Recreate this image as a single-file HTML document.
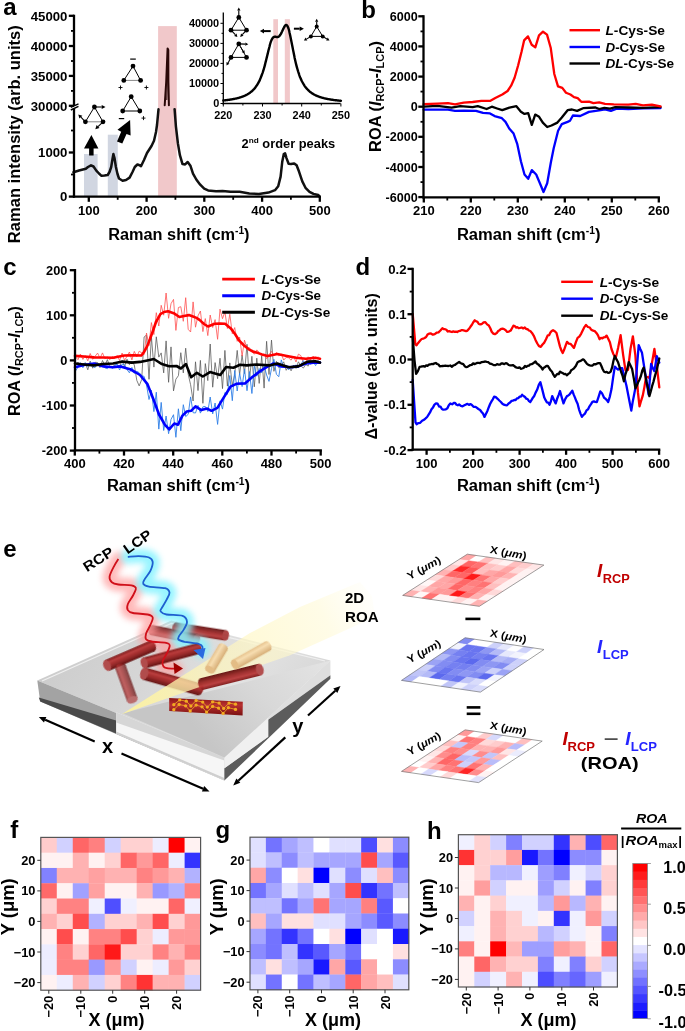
<!DOCTYPE html><html><head><meta charset="utf-8"><title>Figure</title><style>html,body{margin:0;padding:0;background:#fff;width:685px;height:1031px;overflow:hidden;}svg{display:block;font-family:"Liberation Sans", sans-serif;will-change:transform;}</style></head><body><svg width="685" height="1031" viewBox="0 0 685 1031" font-family='"Liberation Sans", sans-serif'><defs><linearGradient id="topface" x1="0" y1="0" x2="1" y2="0.3">
<stop offset="0" stop-color="#c9c9c9"/><stop offset="0.45" stop-color="#d6d6d6"/><stop offset="0.75" stop-color="#e2e2e2"/><stop offset="1" stop-color="#d8d8d8"/></linearGradient>
<linearGradient id="litface" gradientUnits="userSpaceOnUse" x1="320" y1="655" x2="215" y2="750"><stop offset="0" stop-color="#e3e3e3"/><stop offset="0.5" stop-color="#d8d8d8"/><stop offset="1" stop-color="#c6c6c6"/></linearGradient>
<linearGradient id="beam" gradientUnits="userSpaceOnUse" x1="121.8" y1="714.3" x2="375" y2="595">
<stop offset="0" stop-color="#fff49a" stop-opacity="0.9"/><stop offset="0.35" stop-color="#fff5b8" stop-opacity="0.7"/><stop offset="0.8" stop-color="#fffad8" stop-opacity="0.62"/><stop offset="1" stop-color="#fffce8" stop-opacity="0.15"/></linearGradient>
<linearGradient id="cylR" x1="0" y1="0" x2="0" y2="1">
<stop offset="0" stop-color="#7a1414"/><stop offset="0.3" stop-color="#b83636"/><stop offset="0.6" stop-color="#9a2222"/><stop offset="1" stop-color="#5c0a0a"/></linearGradient>
<linearGradient id="cylY" x1="0" y1="0" x2="0" y2="1">
<stop offset="0" stop-color="#e6c08a"/><stop offset="0.35" stop-color="#f7dcae"/><stop offset="1" stop-color="#d4a870"/></linearGradient>
<filter id="glow" x="-30%" y="-30%" width="160%" height="160%"><feGaussianBlur stdDeviation="3.0"/></filter>
<filter id="soft" x="-10%" y="-10%" width="120%" height="120%"><feGaussianBlur stdDeviation="0.6"/></filter></defs><rect width="685" height="1031" fill="#fff"/><rect x="84" y="154" width="13.6" height="42.6" fill="#d1d6e1"/>
<rect x="107.8" y="134.7" width="10" height="61.9" fill="#d1d6e1"/>
<rect x="158.1" y="26.1" width="18.7" height="170.5" fill="#f1c8ca"/>
<polyline points="73.5,172.3 79.0,170.5 85.8,168.8 88.0,167.0 91.0,165.3 93.5,166.5 96.3,170.6 99.0,173.5 101.5,175.8 104.5,175.5 107.7,175.0 109.5,172.0 111.2,167.0 112.5,159.0 113.4,154.0 114.5,158.0 115.9,167.0 117.5,174.0 119.0,178.5 122.6,180.7 126.0,180.0 129.6,177.6 132.5,172.0 134.8,167.0 137.4,164.5 139.0,165.0 141.0,166.2 144.0,160.0 147.0,153.0 151.5,146.0 154.0,140.8 156.0,132.0 157.0,125.0 158.5,109.3" fill="none" stroke="#111" stroke-width="2.5" stroke-linejoin="round" stroke-linecap="round" />
<polyline points="174.6,109.2 175.9,126.3 177.9,143.4 179.9,155.2 182.5,164.1 185.1,164.4 187.7,162.0 190.4,165.7 193.0,173.6 196.3,179.5 200.2,184.7 204.2,188.7 208.1,190.4 216.0,191.3 222.6,190.9 230.4,191.7 239.6,191.8 249.3,193.4 258.9,193.9 268.5,192.6 275.0,190.2 278.2,186.2 280.6,176.6 282.2,162.1 283.8,154.1 285.1,153.3 286.5,158.1 288.6,163.7 291.0,164.0 294.2,163.4 296.6,165.3 299.1,171.8 302.3,181.4 305.5,187.8 309.5,191.8 313.5,193.9 318.3,195.0 319.6,196.6" fill="none" stroke="#111" stroke-width="2.5" stroke-linejoin="round" stroke-linecap="round" />
<polyline points="164.7,105.2 166.2,82.0 167.6,48.4 168.3,50.0 168.4,82.0 168.9,105.2" fill="none" stroke="#2a0808" stroke-width="2.0" stroke-linejoin="round" stroke-linecap="round" />
<line x1="166.8" y1="100.0" x2="167.9" y2="60.0" stroke="#2a0808" stroke-width="1.0" />
<line x1="74.0" y1="14.7" x2="74.0" y2="105.6" stroke="#000" stroke-width="2.3" />
<line x1="74.0" y1="108.6" x2="74.0" y2="197.7" stroke="#000" stroke-width="2.3" />
<line x1="72.9" y1="196.6" x2="320.7" y2="196.6" stroke="#000" stroke-width="2.3" />
<line x1="70.8" y1="107.4" x2="78.5" y2="103.8" stroke="#000" stroke-width="1.4" />
<line x1="70.8" y1="110.0" x2="78.5" y2="106.4" stroke="#000" stroke-width="1.4" />
<line x1="68.8" y1="15.8" x2="74.0" y2="15.8" stroke="#000" stroke-width="2.3" />
<line x1="68.8" y1="46.0" x2="74.0" y2="46.0" stroke="#000" stroke-width="2.3" />
<line x1="68.8" y1="75.9" x2="74.0" y2="75.9" stroke="#000" stroke-width="2.3" />
<line x1="68.8" y1="105.8" x2="74.0" y2="105.8" stroke="#000" stroke-width="2.3" />
<line x1="68.8" y1="152.5" x2="74.0" y2="152.5" stroke="#000" stroke-width="2.3" />
<line x1="68.8" y1="196.6" x2="74.0" y2="196.6" stroke="#000" stroke-width="2.3" />
<line x1="71.0" y1="30.9" x2="74.0" y2="30.9" stroke="#000" stroke-width="1.8" />
<line x1="71.0" y1="61.0" x2="74.0" y2="61.0" stroke="#000" stroke-width="1.8" />
<line x1="71.0" y1="90.9" x2="74.0" y2="90.9" stroke="#000" stroke-width="1.8" />
<line x1="71.0" y1="130.5" x2="74.0" y2="130.5" stroke="#000" stroke-width="1.8" />
<line x1="71.0" y1="174.5" x2="74.0" y2="174.5" stroke="#000" stroke-width="1.8" />
<text x="67.4" y="20.6" font-size="13.2" text-anchor="end" font-weight="bold" font-style="normal" fill="#000" >45000</text>
<text x="67.4" y="50.8" font-size="13.2" text-anchor="end" font-weight="bold" font-style="normal" fill="#000" >40000</text>
<text x="67.4" y="80.7" font-size="13.2" text-anchor="end" font-weight="bold" font-style="normal" fill="#000" >35000</text>
<text x="67.4" y="110.6" font-size="13.2" text-anchor="end" font-weight="bold" font-style="normal" fill="#000" >30000</text>
<text x="67.4" y="157.3" font-size="13.2" text-anchor="end" font-weight="bold" font-style="normal" fill="#000" >1000</text>
<text x="67.4" y="201.4" font-size="13.2" text-anchor="end" font-weight="bold" font-style="normal" fill="#000" >0</text>
<line x1="88.8" y1="196.6" x2="88.8" y2="201.8" stroke="#000" stroke-width="2.3" />
<text x="88.8" y="214.6" font-size="13" text-anchor="middle" font-weight="bold" font-style="normal" fill="#000" >100</text>
<line x1="146.6" y1="196.6" x2="146.6" y2="201.8" stroke="#000" stroke-width="2.3" />
<text x="146.6" y="214.6" font-size="13" text-anchor="middle" font-weight="bold" font-style="normal" fill="#000" >200</text>
<line x1="204.3" y1="196.6" x2="204.3" y2="201.8" stroke="#000" stroke-width="2.3" />
<text x="204.3" y="214.6" font-size="13" text-anchor="middle" font-weight="bold" font-style="normal" fill="#000" >300</text>
<line x1="262.1" y1="196.6" x2="262.1" y2="201.8" stroke="#000" stroke-width="2.3" />
<text x="262.1" y="214.6" font-size="13" text-anchor="middle" font-weight="bold" font-style="normal" fill="#000" >400</text>
<line x1="319.8" y1="196.6" x2="319.8" y2="201.8" stroke="#000" stroke-width="2.3" />
<text x="319.8" y="214.6" font-size="13" text-anchor="middle" font-weight="bold" font-style="normal" fill="#000" >500</text>
<line x1="117.7" y1="196.6" x2="117.7" y2="199.8" stroke="#000" stroke-width="1.8" />
<line x1="175.4" y1="196.6" x2="175.4" y2="199.8" stroke="#000" stroke-width="1.8" />
<line x1="233.2" y1="196.6" x2="233.2" y2="199.8" stroke="#000" stroke-width="1.8" />
<line x1="290.9" y1="196.6" x2="290.9" y2="199.8" stroke="#000" stroke-width="1.8" />
<text x="108.2" y="239.5" font-size="16" font-weight="bold" textLength="141.3" lengthAdjust="spacingAndGlyphs">Raman shift (cm<tspan font-size="10" dy="-6">-1</tspan><tspan dy="6">)</tspan></text>
<text transform="translate(20.4,243.2) rotate(-90)" font-size="16.5" font-weight="bold" textLength="218" lengthAdjust="spacingAndGlyphs">Raman intensity (arb. units)</text>
<text x="3.2" y="15.2" font-size="24" text-anchor="start" font-weight="bold" font-style="normal" fill="#000" >a</text>
<text x="241.6" y="148" font-size="12.5" font-weight="bold" textLength="93.6" lengthAdjust="spacingAndGlyphs">2<tspan font-size="8" dy="-5">nd</tspan><tspan dy="5"> order peaks</tspan></text>
<polygon points="91.4,134.9 84,148.5 89.1,148.5 89.1,155.4 93.6,155.4 93.6,148.5 98.4,148.5" fill="#000"/>
<polygon points="130.1,120 117.5,129.7 121.2,131.8 117,141.5 122.3,143.6 126.5,133.9 130.6,135.4" fill="#000"/>
<line x1="94.4" y1="107.0" x2="85.4" y2="121.8" stroke="#000" stroke-width="1.0" />
<line x1="94.4" y1="107.0" x2="103.0" y2="121.8" stroke="#000" stroke-width="1.0" />
<line x1="85.4" y1="121.8" x2="103.0" y2="121.8" stroke="#888" stroke-width="1.0" />
<circle cx="94.4" cy="107.0" r="2.4" fill="#000"/>
<circle cx="85.4" cy="121.8" r="2.4" fill="#000"/>
<circle cx="103.0" cy="121.8" r="2.4" fill="#000"/>
<line x1="94.4" y1="107.0" x2="101.7" y2="107.0" stroke="#000" stroke-width="1.1" />
<polygon points="105.5,107.0 101.7,109.1 101.7,104.9" fill="#000"/>
<line x1="85.4" y1="121.8" x2="80.9" y2="117.1" stroke="#000" stroke-width="1.1" />
<polygon points="78.3,114.4 82.4,115.7 79.4,118.6" fill="#000"/>
<line x1="103.0" y1="121.8" x2="98.0" y2="126.6" stroke="#000" stroke-width="1.1" />
<polygon points="95.3,129.2 96.6,125.1 99.5,128.1" fill="#000"/>
<line x1="133.0" y1="66.1" x2="123.8" y2="80.4" stroke="#000" stroke-width="1.0" />
<line x1="133.0" y1="66.1" x2="140.6" y2="80.4" stroke="#000" stroke-width="1.0" />
<line x1="123.8" y1="80.4" x2="140.6" y2="80.4" stroke="#888" stroke-width="1.0" />
<circle cx="133.0" cy="66.1" r="2.4" fill="#000"/>
<circle cx="123.8" cy="80.4" r="2.4" fill="#000"/>
<circle cx="140.6" cy="80.4" r="2.4" fill="#000"/>
<line x1="130.2" y1="59.1" x2="135.8" y2="59.1" stroke="#000" stroke-width="1.2" />
<line x1="118.5" y1="87.5" x2="122.5" y2="87.5" stroke="#000" stroke-width="0.9" />
<line x1="120.5" y1="85.5" x2="120.5" y2="89.5" stroke="#000" stroke-width="0.9" />
<line x1="144.4" y1="87.5" x2="148.4" y2="87.5" stroke="#000" stroke-width="0.9" />
<line x1="146.4" y1="85.5" x2="146.4" y2="89.5" stroke="#000" stroke-width="0.9" />
<line x1="131.2" y1="96.7" x2="122.7" y2="111.0" stroke="#000" stroke-width="1.0" />
<line x1="131.2" y1="96.7" x2="139.8" y2="111.0" stroke="#000" stroke-width="1.0" />
<line x1="122.7" y1="111.0" x2="139.8" y2="111.0" stroke="#000" stroke-width="1.0" />
<circle cx="131.2" cy="96.7" r="2.4" fill="#000"/>
<circle cx="122.7" cy="111.0" r="2.4" fill="#000"/>
<circle cx="139.8" cy="111.0" r="2.4" fill="#000"/>
<line x1="118.8" y1="118.6" x2="124.2" y2="118.6" stroke="#000" stroke-width="1.2" />
<line x1="141.5" y1="118.1" x2="145.5" y2="118.1" stroke="#000" stroke-width="0.9" />
<line x1="143.5" y1="116.1" x2="143.5" y2="120.1" stroke="#000" stroke-width="0.9" />
<rect x="273.3" y="19.2" width="4.7" height="84.3" fill="#f1c8ca"/>
<rect x="284.8" y="19.2" width="5.1" height="84.3" fill="#f1c8ca"/>
<polyline points="223.3,100.5 223.7,100.5 224.1,100.4 224.5,100.4 224.9,100.3 225.3,100.3 225.7,100.2 226.0,100.2 226.4,100.1 226.8,100.1 227.2,100.0 227.6,100.0 228.0,99.9 228.4,99.9 228.8,99.8 229.2,99.8 229.6,99.7 230.0,99.7 230.4,99.6 230.7,99.5 231.1,99.5 231.5,99.4 231.9,99.3 232.3,99.3 232.7,99.2 233.1,99.1 233.5,99.0 233.9,99.0 234.3,98.9 234.7,98.8 235.1,98.7 235.5,98.6 235.8,98.6 236.2,98.5 236.6,98.4 237.0,98.3 237.4,98.2 237.8,98.1 238.2,98.0 238.6,97.9 239.0,97.8 239.4,97.7 239.8,97.5 240.2,97.4 240.5,97.3 240.9,97.2 241.3,97.0 241.7,96.9 242.1,96.8 242.5,96.6 242.9,96.5 243.3,96.3 243.7,96.2 244.1,96.0 244.5,95.8 244.9,95.7 245.3,95.5 245.6,95.3 246.0,95.1 246.4,94.9 246.8,94.7 247.2,94.5 247.6,94.3 248.0,94.0 248.4,93.8 248.8,93.5 249.2,93.3 249.6,93.0 250.0,92.7 250.3,92.4 250.7,92.1 251.1,91.8 251.5,91.5 251.9,91.2 252.3,90.8 252.7,90.4 253.1,90.0 253.5,89.6 253.9,89.2 254.3,88.8 254.7,88.3 255.1,87.9 255.4,87.4 255.8,86.8 256.2,86.3 256.6,85.7 257.0,85.1 257.4,84.5 257.8,83.8 258.2,83.2 258.6,82.4 259.0,81.7 259.4,80.9 259.8,80.1 260.1,79.2 260.5,78.3 260.9,77.3 261.3,76.3 261.7,75.3 262.1,74.2 262.5,73.1 262.9,71.9 263.3,70.6 263.7,69.3 264.1,68.0 264.5,66.6 264.9,65.2 265.2,63.7 265.6,62.1 266.0,60.6 266.4,59.0 266.8,57.4 267.2,55.7 267.6,54.1 268.0,52.4 268.4,50.8 268.8,49.2 269.2,47.7 269.6,46.2 269.9,44.8 270.3,43.5 270.7,42.2 271.1,41.1 271.5,40.1 271.9,39.3 272.3,38.6 272.7,38.0 273.1,37.5 273.5,37.2 273.9,36.9 274.3,36.8 274.7,36.7 275.0,36.7 275.4,36.8 275.8,36.8 276.2,36.9 276.6,37.0 277.0,37.0 277.4,37.0 277.8,37.0 278.2,36.9 278.6,36.7 279.0,36.4 279.4,36.1 279.7,35.6 280.1,35.1 280.5,34.5 280.9,33.9 281.3,33.1 281.7,32.3 282.1,31.5 282.5,30.6 282.9,29.7 283.3,28.9 283.7,28.0 284.1,27.3 284.5,26.6 284.8,25.9 285.2,25.5 285.6,25.1 286.0,25.0 286.4,25.0 286.8,25.3 287.2,25.7 287.6,26.3 288.0,27.2 288.4,28.2 288.8,29.5 289.2,30.9 289.5,32.5 289.9,34.2 290.3,36.0 290.7,37.9 291.1,39.9 291.5,41.9 291.9,43.9 292.3,46.0 292.7,48.0 293.1,50.1 293.5,52.1 293.9,54.0 294.3,55.9 294.6,57.8 295.0,59.6 295.4,61.3 295.8,63.0 296.2,64.6 296.6,66.1 297.0,67.6 297.4,69.0 297.8,70.3 298.2,71.6 298.6,72.8 299.0,74.0 299.3,75.1 299.7,76.2 300.1,77.2 300.5,78.1 300.9,79.1 301.3,79.9 301.7,80.8 302.1,81.5 302.5,82.3 302.9,83.0 303.3,83.7 303.7,84.4 304.1,85.0 304.4,85.6 304.8,86.2 305.2,86.7 305.6,87.2 306.0,87.7 306.4,88.2 306.8,88.7 307.2,89.1 307.6,89.5 308.0,89.9 308.4,90.3 308.8,90.7 309.1,91.0 309.5,91.4 309.9,91.7 310.3,92.0 310.7,92.3 311.1,92.6 311.5,92.9 311.9,93.2 312.3,93.4 312.7,93.7 313.1,93.9 313.5,94.1 313.9,94.4 314.2,94.6 314.6,94.8 315.0,95.0 315.4,95.2 315.8,95.4 316.2,95.6 316.6,95.7 317.0,95.9 317.4,96.1 317.8,96.2 318.2,96.4 318.6,96.5 318.9,96.7 319.3,96.8 319.7,97.0 320.1,97.1 320.5,97.2 320.9,97.3 321.3,97.5 321.7,97.6 322.1,97.7 322.5,97.8 322.9,97.9 323.3,98.0 323.7,98.1 324.0,98.2 324.4,98.3 324.8,98.4 325.2,98.5 325.6,98.6 326.0,98.7 326.4,98.7 326.8,98.8 327.2,98.9 327.6,99.0 328.0,99.1 328.4,99.1 328.7,99.2 329.1,99.3 329.5,99.3 329.9,99.4 330.3,99.5 330.7,99.5 331.1,99.6 331.5,99.7 331.9,99.7 332.3,99.8 332.7,99.8 333.1,99.9 333.5,99.9 333.8,100.0 334.2,100.1 334.6,100.1 335.0,100.2 335.4,100.2 335.8,100.2 336.2,100.3 336.6,100.3 337.0,100.4 337.4,100.4 337.8,100.5 338.2,100.5 338.5,100.6 338.9,100.6 339.3,100.6 339.7,100.7 340.1,100.7 340.5,100.7 340.9,100.8" fill="none" stroke="#000" stroke-width="2.4" stroke-linejoin="round" stroke-linecap="round" />
<line x1="223.3" y1="12.5" x2="223.3" y2="104.5" stroke="#000" stroke-width="1.3" />
<line x1="222.5" y1="103.5" x2="340.6" y2="103.5" stroke="#000" stroke-width="1.3" />
<line x1="220.5" y1="103.5" x2="223.3" y2="103.5" stroke="#000" stroke-width="1.0" />
<line x1="221.5" y1="93.5" x2="223.3" y2="93.5" stroke="#000" stroke-width="1.0" />
<line x1="220.5" y1="83.5" x2="223.3" y2="83.5" stroke="#000" stroke-width="1.0" />
<line x1="221.5" y1="73.4" x2="223.3" y2="73.4" stroke="#000" stroke-width="1.0" />
<line x1="220.5" y1="63.4" x2="223.3" y2="63.4" stroke="#000" stroke-width="1.0" />
<line x1="221.5" y1="53.4" x2="223.3" y2="53.4" stroke="#000" stroke-width="1.0" />
<line x1="220.5" y1="43.4" x2="223.3" y2="43.4" stroke="#000" stroke-width="1.0" />
<line x1="221.5" y1="33.3" x2="223.3" y2="33.3" stroke="#000" stroke-width="1.0" />
<line x1="220.5" y1="23.3" x2="223.3" y2="23.3" stroke="#000" stroke-width="1.0" />
<line x1="223.3" y1="103.5" x2="223.3" y2="106.5" stroke="#000" stroke-width="1.0" />
<line x1="242.9" y1="103.5" x2="242.9" y2="105.5" stroke="#000" stroke-width="1.0" />
<line x1="262.5" y1="103.5" x2="262.5" y2="106.5" stroke="#000" stroke-width="1.0" />
<line x1="282.1" y1="103.5" x2="282.1" y2="105.5" stroke="#000" stroke-width="1.0" />
<line x1="301.7" y1="103.5" x2="301.7" y2="106.5" stroke="#000" stroke-width="1.0" />
<line x1="321.3" y1="103.5" x2="321.3" y2="105.5" stroke="#000" stroke-width="1.0" />
<line x1="340.9" y1="103.5" x2="340.9" y2="106.5" stroke="#000" stroke-width="1.0" />
<text x="219.2" y="107.4" font-size="10.9" text-anchor="end" font-weight="bold" font-style="normal" fill="#000" >0</text>
<text x="219.2" y="87.4" font-size="10.9" text-anchor="end" font-weight="bold" font-style="normal" fill="#000" >10000</text>
<text x="219.2" y="67.3" font-size="10.9" text-anchor="end" font-weight="bold" font-style="normal" fill="#000" >20000</text>
<text x="219.2" y="47.2" font-size="10.9" text-anchor="end" font-weight="bold" font-style="normal" fill="#000" >30000</text>
<text x="219.2" y="27.2" font-size="10.9" text-anchor="end" font-weight="bold" font-style="normal" fill="#000" >40000</text>
<text x="223.3" y="119.3" font-size="10.9" text-anchor="middle" font-weight="bold" font-style="normal" fill="#000" >220</text>
<text x="262.5" y="119.3" font-size="10.9" text-anchor="middle" font-weight="bold" font-style="normal" fill="#000" >230</text>
<text x="301.7" y="119.3" font-size="10.9" text-anchor="middle" font-weight="bold" font-style="normal" fill="#000" >240</text>
<text x="340.9" y="119.3" font-size="10.9" text-anchor="middle" font-weight="bold" font-style="normal" fill="#000" >250</text>
<line x1="238.8" y1="17.4" x2="231.0" y2="30.2" stroke="#000" stroke-width="1.0" />
<line x1="238.8" y1="17.4" x2="246.5" y2="30.2" stroke="#000" stroke-width="1.0" />
<line x1="231.0" y1="30.2" x2="246.5" y2="30.2" stroke="#000" stroke-width="1.0" />
<circle cx="238.8" cy="17.4" r="2.4" fill="#000"/>
<circle cx="231.0" cy="30.2" r="2.4" fill="#000"/>
<circle cx="246.5" cy="30.2" r="2.4" fill="#000"/>
<line x1="238.8" y1="17.4" x2="238.8" y2="10.6" stroke="#000" stroke-width="1.1" />
<polygon points="238.8,7.6 240.5,10.6 237.2,10.6" fill="#000"/>
<line x1="231.0" y1="30.2" x2="235.3" y2="34.7" stroke="#000" stroke-width="1.1" />
<polygon points="237.4,36.9 234.1,35.9 236.5,33.6" fill="#000"/>
<line x1="246.5" y1="30.2" x2="242.3" y2="34.7" stroke="#000" stroke-width="1.1" />
<polygon points="240.2,36.9 241.1,33.6 243.5,35.8" fill="#000"/>
<line x1="238.8" y1="43.9" x2="231.0" y2="57.4" stroke="#000" stroke-width="1.0" />
<line x1="238.8" y1="43.9" x2="246.5" y2="57.4" stroke="#000" stroke-width="1.0" />
<line x1="231.0" y1="57.4" x2="246.5" y2="57.4" stroke="#000" stroke-width="1.0" />
<circle cx="238.8" cy="43.9" r="2.4" fill="#000"/>
<circle cx="231.0" cy="57.4" r="2.4" fill="#000"/>
<circle cx="246.5" cy="57.4" r="2.4" fill="#000"/>
<line x1="238.8" y1="43.9" x2="245.3" y2="44.1" stroke="#000" stroke-width="1.1" />
<polygon points="248.3,44.2 245.2,45.8 245.4,42.5" fill="#000"/>
<line x1="231.0" y1="57.4" x2="228.0" y2="62.9" stroke="#000" stroke-width="1.1" />
<polygon points="226.5,65.5 226.5,62.1 229.4,63.7" fill="#000"/>
<line x1="240.5" y1="46.8" x2="243.1" y2="51.0" stroke="#000" stroke-width="1.0" />
<polygon points="244.6,53.6 241.6,51.9 244.5,50.2" fill="#000"/>
<line x1="270.7" y1="31.1" x2="264.0" y2="31.1" stroke="#000" stroke-width="2.0" />
<polygon points="259.8,31.1 264.0,28.8 264.0,33.4" fill="#000"/>
<line x1="293.9" y1="28.7" x2="299.7" y2="28.7" stroke="#000" stroke-width="2.0" />
<polygon points="303.9,28.7 299.7,31.0 299.7,26.4" fill="#000"/>
<line x1="316.7" y1="26.5" x2="310.9" y2="36.4" stroke="#000" stroke-width="1.0" />
<line x1="316.7" y1="26.5" x2="322.7" y2="36.4" stroke="#000" stroke-width="1.0" />
<line x1="310.9" y1="36.4" x2="322.7" y2="36.4" stroke="#000" stroke-width="1.0" />
<circle cx="316.7" cy="26.5" r="2.0" fill="#000"/>
<circle cx="310.9" cy="36.4" r="2.0" fill="#000"/>
<circle cx="322.7" cy="36.4" r="2.0" fill="#000"/>
<line x1="316.7" y1="26.5" x2="316.7" y2="21.7" stroke="#000" stroke-width="1.1" />
<polygon points="316.7,18.7 318.3,21.7 315.1,21.7" fill="#000"/>
<line x1="310.9" y1="36.4" x2="306.5" y2="39.1" stroke="#000" stroke-width="1.1" />
<polygon points="303.9,40.6 305.6,37.6 307.3,40.5" fill="#000"/>
<line x1="322.7" y1="36.4" x2="326.9" y2="39.0" stroke="#000" stroke-width="1.1" />
<polygon points="329.5,40.6 326.1,40.4 327.8,37.6" fill="#000"/>
<polyline points="423.6,109.7 437.5,109.7 448.0,109.7 455.0,110.8 463.8,110.6 476.0,110.8 483.0,112.9 490.0,113.4 494.6,116.1 501.9,118.2 505.5,121.9 509.2,128.5 513.6,133.6 517.2,143.8 520.9,161.3 524.5,174.5 528.2,178.8 531.8,170.1 536.2,174.5 539.9,183.2 543.5,192.0 547.2,183.2 550.8,162.8 553.7,148.2 558.1,130.7 561.8,124.1 567.6,121.9 570.0,120.7 572.9,115.5 580.2,116.0 589.0,111.9 599.2,110.4 605.0,109.3 610.9,110.9 616.7,108.7 628.4,109.0 643.0,108.4 660.5,108.2" fill="none" stroke="#0000ff" stroke-width="2.3" stroke-linejoin="round" stroke-linecap="round" />
<polyline points="423.6,106.7 437.5,105.8 451.5,107.6 460.3,106.2 472.6,107.2 477.8,106.2 486.6,109.0 491.8,106.7 497.1,108.5 502.3,110.2 509.4,107.6 516.4,106.2 520.9,111.7 524.5,113.9 528.2,113.1 531.8,124.8 535.2,114.6 539.1,116.8 542.8,122.6 547.2,127.0 551.5,125.5 557.4,122.6 561.8,117.5 567.6,110.2 572.0,109.5 577.1,110.9 583.1,108.2 595.5,107.5 599.2,109.0 604.3,107.8 610.1,108.7 615.3,107.2 628.4,107.5 643.0,107.8 660.5,107.2" fill="none" stroke="#000" stroke-width="2.3" stroke-linejoin="round" stroke-linecap="round" />
<polyline points="423.6,104.1 437.5,103.7 448.0,103.2 455.0,104.4 463.8,102.7 472.6,102.0 481.3,100.9 490.0,100.9 495.3,98.0 502.3,94.5 507.6,91.0 511.1,85.7 514.6,77.8 518.1,65.5 521.6,51.5 524.1,40.4 528.0,36.4 531.7,44.8 535.3,47.4 539.0,35.3 543.0,31.7 547.0,34.6 550.7,47.7 554.3,74.0 558.0,86.4 562.3,87.9 566.0,92.7 570.4,94.5 574.0,97.1 577.7,98.1 581.3,101.8 589.0,101.7 593.4,103.1 599.2,102.4 605.0,103.9 613.8,104.3 628.4,104.6 635.7,103.9 643.0,105.3 651.8,104.6 660.5,106.4" fill="none" stroke="#ff0000" stroke-width="2.3" stroke-linejoin="round" stroke-linecap="round" />
<line x1="423.5" y1="15.2" x2="423.5" y2="198.4" stroke="#000" stroke-width="2.3" />
<line x1="422.4" y1="197.3" x2="659.9" y2="197.3" stroke="#000" stroke-width="2.3" />
<line x1="418.3" y1="197.1" x2="423.5" y2="197.1" stroke="#000" stroke-width="2.3" />
<text x="417.7" y="201.7" font-size="12.6" text-anchor="end" font-weight="bold" font-style="normal" fill="#000" >-6000</text>
<line x1="418.3" y1="167.0" x2="423.5" y2="167.0" stroke="#000" stroke-width="2.3" />
<text x="417.7" y="171.6" font-size="12.6" text-anchor="end" font-weight="bold" font-style="normal" fill="#000" >-4000</text>
<line x1="418.3" y1="136.8" x2="423.5" y2="136.8" stroke="#000" stroke-width="2.3" />
<text x="417.7" y="141.4" font-size="12.6" text-anchor="end" font-weight="bold" font-style="normal" fill="#000" >-2000</text>
<line x1="418.3" y1="106.7" x2="423.5" y2="106.7" stroke="#000" stroke-width="2.3" />
<text x="417.7" y="111.3" font-size="12.6" text-anchor="end" font-weight="bold" font-style="normal" fill="#000" >0</text>
<line x1="418.3" y1="76.6" x2="423.5" y2="76.6" stroke="#000" stroke-width="2.3" />
<text x="417.7" y="81.2" font-size="12.6" text-anchor="end" font-weight="bold" font-style="normal" fill="#000" >2000</text>
<line x1="418.3" y1="46.4" x2="423.5" y2="46.4" stroke="#000" stroke-width="2.3" />
<text x="417.7" y="51.0" font-size="12.6" text-anchor="end" font-weight="bold" font-style="normal" fill="#000" >4000</text>
<line x1="418.3" y1="16.3" x2="423.5" y2="16.3" stroke="#000" stroke-width="2.3" />
<text x="417.7" y="20.9" font-size="12.6" text-anchor="end" font-weight="bold" font-style="normal" fill="#000" >6000</text>
<line x1="420.5" y1="182.1" x2="423.5" y2="182.1" stroke="#000" stroke-width="1.8" />
<line x1="420.5" y1="151.9" x2="423.5" y2="151.9" stroke="#000" stroke-width="1.8" />
<line x1="420.5" y1="121.8" x2="423.5" y2="121.8" stroke="#000" stroke-width="1.8" />
<line x1="420.5" y1="91.6" x2="423.5" y2="91.6" stroke="#000" stroke-width="1.8" />
<line x1="420.5" y1="61.5" x2="423.5" y2="61.5" stroke="#000" stroke-width="1.8" />
<line x1="420.5" y1="31.4" x2="423.5" y2="31.4" stroke="#000" stroke-width="1.8" />
<line x1="423.8" y1="197.3" x2="423.8" y2="202.5" stroke="#000" stroke-width="2.3" />
<text x="423.8" y="214.6" font-size="13" text-anchor="middle" font-weight="bold" font-style="normal" fill="#000" >210</text>
<line x1="470.8" y1="197.3" x2="470.8" y2="202.5" stroke="#000" stroke-width="2.3" />
<text x="470.8" y="214.6" font-size="13" text-anchor="middle" font-weight="bold" font-style="normal" fill="#000" >220</text>
<line x1="517.8" y1="197.3" x2="517.8" y2="202.5" stroke="#000" stroke-width="2.3" />
<text x="517.8" y="214.6" font-size="13" text-anchor="middle" font-weight="bold" font-style="normal" fill="#000" >230</text>
<line x1="564.8" y1="197.3" x2="564.8" y2="202.5" stroke="#000" stroke-width="2.3" />
<text x="564.8" y="214.6" font-size="13" text-anchor="middle" font-weight="bold" font-style="normal" fill="#000" >240</text>
<line x1="611.8" y1="197.3" x2="611.8" y2="202.5" stroke="#000" stroke-width="2.3" />
<text x="611.8" y="214.6" font-size="13" text-anchor="middle" font-weight="bold" font-style="normal" fill="#000" >250</text>
<line x1="658.8" y1="197.3" x2="658.8" y2="202.5" stroke="#000" stroke-width="2.3" />
<text x="658.8" y="214.6" font-size="13" text-anchor="middle" font-weight="bold" font-style="normal" fill="#000" >260</text>
<line x1="447.3" y1="197.3" x2="447.3" y2="200.5" stroke="#000" stroke-width="1.8" />
<line x1="494.3" y1="197.3" x2="494.3" y2="200.5" stroke="#000" stroke-width="1.8" />
<line x1="541.3" y1="197.3" x2="541.3" y2="200.5" stroke="#000" stroke-width="1.8" />
<line x1="588.3" y1="197.3" x2="588.3" y2="200.5" stroke="#000" stroke-width="1.8" />
<line x1="635.3" y1="197.3" x2="635.3" y2="200.5" stroke="#000" stroke-width="1.8" />
<text x="456.9" y="239.5" font-size="16" font-weight="bold" textLength="143.6" lengthAdjust="spacingAndGlyphs">Raman shift (cm<tspan font-size="10" dy="-6">-1</tspan><tspan dy="6">)</tspan></text>
<text transform="translate(381.2,151.9) rotate(-90)" font-size="15.7" font-weight="bold" textLength="110.9" lengthAdjust="spacingAndGlyphs">ROA (<tspan font-style="italic">I</tspan><tspan font-size="10.5" dy="3">RCP</tspan><tspan dy="-3">-</tspan><tspan font-style="italic">I</tspan><tspan font-size="10.5" dy="3">LCP</tspan><tspan dy="-3">)</tspan></text>
<text x="361.3" y="17.8" font-size="24" text-anchor="start" font-weight="bold" font-style="normal" fill="#000" >b</text>
<line x1="569.5" y1="30.2" x2="600.0" y2="30.2" stroke="#ff0000" stroke-width="2.4" />
<text x="605.5" y="34.9" font-size="13.2" font-weight="bold" textLength="59.4" lengthAdjust="spacingAndGlyphs"><tspan font-style="italic">L</tspan>-Cys-Se</text>
<line x1="569.5" y1="47.0" x2="600.0" y2="47.0" stroke="#0000ff" stroke-width="2.4" />
<text x="605.5" y="51.7" font-size="13.2" font-weight="bold" textLength="59.4" lengthAdjust="spacingAndGlyphs"><tspan font-style="italic">D</tspan>-Cys-Se</text>
<line x1="569.5" y1="63.5" x2="600.0" y2="63.5" stroke="#000" stroke-width="2.4" />
<text x="605.5" y="68.2" font-size="13.2" font-weight="bold" textLength="68.6" lengthAdjust="spacingAndGlyphs"><tspan font-style="italic">DL</tspan>-Cys-Se</text>
<polyline points="75.5,364.8 78.0,362.1 80.4,367.0 82.9,363.6 85.3,363.3 87.8,369.8 90.2,361.1 92.7,368.2 95.1,362.3 97.6,362.5 100.0,367.6 102.5,360.5 104.9,365.4 107.4,359.6 109.8,367.0 112.3,366.9 114.7,365.0 117.2,364.7 119.6,366.4 122.1,360.7 124.5,366.6 127.0,359.2 129.4,364.6 131.9,361.0 134.3,365.0 136.8,380.4 139.2,385.9 141.7,379.5 144.1,337.0 146.5,335.0 149.0,379.3 151.4,336.5 153.9,367.1 156.3,336.8 158.8,357.1 161.2,352.9 163.7,372.9 166.1,340.9 168.6,382.3 171.0,346.9 173.5,390.9 175.9,379.2 178.4,375.7 180.8,352.7 183.3,372.9 185.7,348.2 188.2,374.3 190.6,384.7 193.1,401.0 195.5,361.8 198.0,390.6 200.4,360.4 202.9,403.3 205.3,363.6 207.8,380.6 210.2,344.0 212.7,387.2 215.1,362.6 217.6,378.7 220.0,358.2 222.5,388.6 224.9,350.4 227.4,386.1 229.8,362.9 232.3,385.6 234.7,374.6 237.2,350.4 239.6,374.7 242.1,355.1 244.5,373.6 247.0,344.3 249.4,380.1 251.9,356.3 254.3,386.8 256.8,358.2 259.2,383.4 261.7,356.0 264.1,388.1 266.6,341.3 269.0,374.5 271.5,340.1 273.9,371.3 276.4,361.3 278.8,367.8 281.3,365.9 283.7,361.8 286.2,370.3 288.6,366.3 291.1,370.8 293.5,365.2 296.0,368.5 298.4,361.8 300.9,365.8 303.3,368.1 305.8,364.5 308.2,366.1 310.7,358.0 313.1,358.3 315.6,362.7 318.0,360.8" fill="none" stroke="#555" stroke-width="0.75" stroke-linejoin="round" stroke-linecap="round" />
<polyline points="75.5,356.9 78.0,359.7 80.4,354.0 82.9,359.4 85.3,355.7 87.8,360.8 90.2,353.5 92.7,359.3 95.1,356.2 97.6,353.1 100.0,358.2 102.5,352.9 104.9,358.7 107.4,356.9 109.8,359.7 112.3,356.5 114.7,358.6 117.2,355.5 119.6,360.5 122.1,353.0 124.5,360.4 127.0,356.4 129.4,352.0 131.9,359.9 134.3,351.4 136.8,356.8 139.2,351.2 141.7,352.9 144.1,354.8 146.5,333.0 149.0,345.6 151.4,322.6 153.9,334.6 156.3,312.7 158.8,326.0 161.2,305.3 163.7,315.2 166.1,293.0 168.6,318.3 171.0,303.7 173.5,299.4 175.9,330.4 178.4,307.5 180.8,306.7 183.3,321.3 185.7,297.7 188.2,329.3 190.6,332.0 193.1,301.9 195.5,327.2 198.0,315.8 200.4,311.0 202.9,331.6 205.3,318.6 207.8,335.6 210.2,315.0 212.7,327.5 215.1,319.6 217.6,339.3 220.0,309.2 222.5,318.7 224.9,311.9 227.4,328.5 229.8,314.2 232.3,333.8 234.7,327.6 237.2,341.3 239.6,337.1 242.1,356.1 244.5,340.1 247.0,348.6 249.4,347.7 251.9,351.8 254.3,354.2 256.8,349.9 259.2,352.7 261.7,355.4 264.1,354.0 266.6,358.7 269.0,354.5 271.5,351.4 273.9,355.9 276.4,352.4 278.8,355.8 281.3,354.0 283.7,360.1 286.2,357.3 288.6,357.8 291.1,360.2 293.5,356.0 296.0,362.0 298.4,354.1 300.9,355.7 303.3,362.7 305.8,362.1 308.2,356.8 310.7,359.4 313.1,356.1 315.6,358.8 318.0,357.0" fill="none" stroke="#ff5050" stroke-width="0.8" stroke-linejoin="round" stroke-linecap="round" />
<polyline points="75.5,371.0 78.0,367.2 80.4,362.7 82.9,367.8 85.3,362.6 87.8,366.5 90.2,362.5 92.7,366.4 95.1,367.6 97.6,363.0 100.0,366.0 102.5,364.4 104.9,367.9 107.4,368.7 109.8,366.0 112.3,368.5 114.7,365.3 117.2,364.3 119.6,370.0 122.1,364.1 124.5,364.7 127.0,369.6 129.4,372.8 131.9,367.4 134.3,373.3 136.8,371.3 139.2,372.7 141.7,375.7 144.1,376.4 146.5,385.0 149.0,399.5 151.4,390.2 153.9,411.6 156.3,392.2 158.8,429.1 161.2,402.4 163.7,430.5 166.1,416.0 168.6,433.7 171.0,419.4 173.5,414.7 175.9,437.3 178.4,408.8 180.8,430.7 183.3,404.7 185.7,416.6 188.2,414.3 190.6,396.9 193.1,412.7 195.5,413.0 198.0,405.4 200.4,413.1 202.9,406.8 205.3,406.5 207.8,411.5 210.2,397.0 212.7,413.9 215.1,403.0 217.6,424.4 220.0,400.9 222.5,409.1 224.9,392.5 227.4,394.3 229.8,375.5 232.3,400.7 234.7,370.5 237.2,391.0 239.6,373.3 242.1,386.6 244.5,369.0 247.0,390.7 249.4,371.6 251.9,393.5 254.3,366.1 256.8,376.2 259.2,368.5 261.7,372.8 264.1,365.7 266.6,374.9 269.0,381.4 271.5,368.7 273.9,359.3 276.4,374.3 278.8,376.7 281.3,359.9 283.7,367.3 286.2,365.4 288.6,369.8 291.1,366.5 293.5,367.9 296.0,364.8 298.4,367.5 300.9,364.4 303.3,360.6 305.8,365.1 308.2,361.1 310.7,364.4 313.1,361.8 315.6,365.6 318.0,360.7" fill="none" stroke="#2f7fe6" stroke-width="0.9" stroke-linejoin="round" stroke-linecap="round" />
<polyline points="75.0,367.3 84.0,365.0 94.0,363.5 103.5,366.4 113.0,367.3 120.5,366.4 130.0,369.2 135.0,372.0 140.0,375.0 147.3,383.8 153.1,398.4 159.0,414.5 164.8,424.7 169.2,429.3 174.3,423.5 178.0,424.7 182.3,415.9 186.7,411.5 191.1,410.8 195.5,406.4 201.3,410.1 207.2,408.6 211.5,410.8 217.4,407.9 223.2,398.4 230.5,386.7 236.4,383.8 245.0,383.4 252.6,376.8 260.2,371.1 267.8,366.4 273.5,363.5 281.1,366.4 290.6,367.3 298.2,366.4 305.8,363.5 313.4,362.6 320.0,362.6" fill="none" stroke="#0000ff" stroke-width="2.6" stroke-linejoin="round" stroke-linecap="round" />
<polyline points="75.0,363.5 84.0,364.5 94.0,365.4 103.0,364.0 113.0,363.5 122.4,361.6 131.9,362.6 140.0,361.9 147.3,360.4 153.9,359.0 157.0,361.0 161.9,364.1 165.0,365.0 169.2,366.3 176.5,366.0 180.9,368.5 186.0,364.1 191.1,377.2 196.9,372.8 202.8,376.5 210.0,372.1 215.0,373.5 220.3,375.0 226.1,367.0 233.4,367.7 240.0,364.8 246.9,365.4 256.4,364.5 269.7,365.4 277.3,363.5 288.7,367.3 298.2,366.4 307.7,361.6 315.3,361.2 320.0,362.6" fill="none" stroke="#000" stroke-width="2.6" stroke-linejoin="round" stroke-linecap="round" />
<polyline points="75.0,355.9 84.0,356.5 94.0,357.4 103.0,357.5 113.0,357.8 124.3,355.5 133.0,355.3 141.4,355.5 144.0,352.0 147.1,346.4 150.0,339.0 152.8,331.2 156.0,322.0 160.4,314.2 164.0,312.0 168.0,311.3 173.7,313.2 179.4,317.0 184.0,316.0 188.9,315.1 193.0,316.5 196.5,317.9 199.5,319.9 204.0,324.0 208.0,326.5 214.7,323.7 220.0,323.5 225.1,323.7 230.8,328.4 235.0,334.0 239.3,340.7 244.0,345.5 248.8,349.3 253.0,351.5 258.3,353.1 262.0,354.5 267.8,355.9 277.3,354.0 286.8,355.9 296.3,357.8 305.8,358.8 315.3,357.8 320.0,358.8" fill="none" stroke="#ff0000" stroke-width="2.6" stroke-linejoin="round" stroke-linecap="round" />
<line x1="75.0" y1="269.0" x2="75.0" y2="451.5" stroke="#000" stroke-width="2.3" />
<line x1="73.9" y1="450.4" x2="321.9" y2="450.4" stroke="#000" stroke-width="2.3" />
<line x1="69.8" y1="450.6" x2="75.0" y2="450.6" stroke="#000" stroke-width="2.3" />
<text x="67.4" y="455.2" font-size="12.8" text-anchor="end" font-weight="bold" font-style="normal" fill="#000" >-200</text>
<line x1="69.8" y1="405.5" x2="75.0" y2="405.5" stroke="#000" stroke-width="2.3" />
<text x="67.4" y="410.1" font-size="12.8" text-anchor="end" font-weight="bold" font-style="normal" fill="#000" >-100</text>
<line x1="69.8" y1="360.4" x2="75.0" y2="360.4" stroke="#000" stroke-width="2.3" />
<text x="67.4" y="365.0" font-size="12.8" text-anchor="end" font-weight="bold" font-style="normal" fill="#000" >0</text>
<line x1="69.8" y1="315.3" x2="75.0" y2="315.3" stroke="#000" stroke-width="2.3" />
<text x="67.4" y="319.9" font-size="12.8" text-anchor="end" font-weight="bold" font-style="normal" fill="#000" >100</text>
<line x1="69.8" y1="270.2" x2="75.0" y2="270.2" stroke="#000" stroke-width="2.3" />
<text x="67.4" y="274.8" font-size="12.8" text-anchor="end" font-weight="bold" font-style="normal" fill="#000" >200</text>
<line x1="72.0" y1="428.0" x2="75.0" y2="428.0" stroke="#000" stroke-width="1.8" />
<line x1="72.0" y1="382.9" x2="75.0" y2="382.9" stroke="#000" stroke-width="1.8" />
<line x1="72.0" y1="337.8" x2="75.0" y2="337.8" stroke="#000" stroke-width="1.8" />
<line x1="72.0" y1="292.8" x2="75.0" y2="292.8" stroke="#000" stroke-width="1.8" />
<line x1="74.8" y1="450.4" x2="74.8" y2="455.6" stroke="#000" stroke-width="2.3" />
<text x="74.8" y="468.2" font-size="13" text-anchor="middle" font-weight="bold" font-style="normal" fill="#000" >400</text>
<line x1="124.0" y1="450.4" x2="124.0" y2="455.6" stroke="#000" stroke-width="2.3" />
<text x="124.0" y="468.2" font-size="13" text-anchor="middle" font-weight="bold" font-style="normal" fill="#000" >420</text>
<line x1="173.2" y1="450.4" x2="173.2" y2="455.6" stroke="#000" stroke-width="2.3" />
<text x="173.2" y="468.2" font-size="13" text-anchor="middle" font-weight="bold" font-style="normal" fill="#000" >440</text>
<line x1="222.3" y1="450.4" x2="222.3" y2="455.6" stroke="#000" stroke-width="2.3" />
<text x="222.3" y="468.2" font-size="13" text-anchor="middle" font-weight="bold" font-style="normal" fill="#000" >460</text>
<line x1="271.5" y1="450.4" x2="271.5" y2="455.6" stroke="#000" stroke-width="2.3" />
<text x="271.5" y="468.2" font-size="13" text-anchor="middle" font-weight="bold" font-style="normal" fill="#000" >480</text>
<line x1="320.7" y1="450.4" x2="320.7" y2="455.6" stroke="#000" stroke-width="2.3" />
<text x="320.7" y="468.2" font-size="13" text-anchor="middle" font-weight="bold" font-style="normal" fill="#000" >500</text>
<line x1="99.4" y1="450.4" x2="99.4" y2="453.6" stroke="#000" stroke-width="1.8" />
<line x1="148.6" y1="450.4" x2="148.6" y2="453.6" stroke="#000" stroke-width="1.8" />
<line x1="197.8" y1="450.4" x2="197.8" y2="453.6" stroke="#000" stroke-width="1.8" />
<line x1="246.9" y1="450.4" x2="246.9" y2="453.6" stroke="#000" stroke-width="1.8" />
<line x1="296.1" y1="450.4" x2="296.1" y2="453.6" stroke="#000" stroke-width="1.8" />
<text x="106.9" y="491.1" font-size="16" font-weight="bold" textLength="143.2" lengthAdjust="spacingAndGlyphs">Raman shift (cm<tspan font-size="10" dy="-6">-1</tspan><tspan dy="6">)</tspan></text>
<text transform="translate(20.4,416) rotate(-90)" font-size="15.7" font-weight="bold" textLength="110" lengthAdjust="spacingAndGlyphs">ROA (<tspan font-style="italic">I</tspan><tspan font-size="10.5" dy="3">RCP</tspan><tspan dy="-3">-</tspan><tspan font-style="italic">I</tspan><tspan font-size="10.5" dy="3">LCP</tspan><tspan dy="-3">)</tspan></text>
<text x="3.2" y="274.5" font-size="24" text-anchor="start" font-weight="bold" font-style="normal" fill="#000" >c</text>
<line x1="222.2" y1="279.1" x2="254.9" y2="279.1" stroke="#ff0000" stroke-width="2.9" />
<text x="261.6" y="283.8" font-size="13.2" font-weight="bold" textLength="59.4" lengthAdjust="spacingAndGlyphs"><tspan font-style="italic">L</tspan>-Cys-Se</text>
<line x1="222.2" y1="295.7" x2="254.9" y2="295.7" stroke="#0000ff" stroke-width="2.9" />
<text x="261.6" y="300.4" font-size="13.2" font-weight="bold" textLength="59.4" lengthAdjust="spacingAndGlyphs"><tspan font-style="italic">D</tspan>-Cys-Se</text>
<line x1="222.2" y1="312.2" x2="254.9" y2="312.2" stroke="#000" stroke-width="2.9" />
<text x="261.6" y="316.9" font-size="13.2" font-weight="bold" textLength="68.6" lengthAdjust="spacingAndGlyphs"><tspan font-style="italic">DL</tspan>-Cys-Se</text>
<polyline points="412.7,313.9 414.0,328.8 415.3,344.2 416.5,345.3 418.0,343.2 420.2,340.5 421.7,339.0 423.1,338.7 424.6,338.0 426.1,337.0 427.5,334.6 429.0,333.7 430.9,333.4 432.8,334.7 434.7,334.1 436.6,332.7 438.5,332.3 440.4,330.5 442.4,328.2 443.7,329.1 445.0,329.2 446.4,329.8 447.7,331.5 449.1,331.1 450.6,331.6 452.0,332.0 453.3,331.4 454.6,331.9 456.0,331.6 457.3,332.0 458.6,331.1 460.0,330.9 461.3,330.2 462.6,330.1 464.4,330.6 466.1,331.1 467.5,330.6 469.0,328.8 470.4,326.8 471.9,324.8 473.3,322.3 474.8,320.3 476.1,321.3 477.5,321.9 478.8,324.0 480.1,324.3 481.8,324.0 483.6,322.3 485.3,322.1 487.1,324.4 488.8,325.5 490.3,328.3 491.7,331.8 493.2,333.6 494.9,334.2 496.7,333.1 498.2,331.0 499.6,330.2 501.1,328.8 502.6,328.7 504.1,329.1 505.7,330.2 507.2,331.9 508.9,331.6 510.7,330.6 512.0,328.3 513.4,325.7 514.7,326.0 516.0,327.6 517.3,327.1 518.6,328.1 520.1,327.9 521.7,327.5 523.2,328.4 524.8,327.4 526.2,329.1 527.5,329.1 528.9,330.5 530.3,331.0 532.0,332.9 533.8,335.8 535.5,339.9 537.3,343.5 539.0,346.2 540.8,346.8 542.5,344.5 544.3,342.6 546.0,339.2 547.8,335.3 549.1,335.2 550.4,332.4 551.7,330.9 553.0,330.2 554.8,331.3 556.5,333.0 558.2,339.6 560.0,346.6 561.4,350.5 562.7,353.0 564.1,349.8 565.6,345.6 567.0,341.9 568.8,343.6 570.5,343.8 572.2,345.7 574.0,347.9 575.8,342.4 577.6,337.9 579.3,336.6 581.1,333.8 582.8,330.3 584.4,327.1 586.0,324.9 587.9,327.0 589.8,327.5 591.1,329.6 592.5,330.4 593.8,330.8 595.1,331.4 596.6,333.2 598.0,335.4 599.5,339.2 600.9,337.8 602.4,338.3 603.8,337.3 605.2,337.1 606.6,335.6 608.2,338.8 609.9,342.3 611.5,349.0 613.2,353.7 615.7,358.1 618.1,347.9 620.6,335.2 623.1,354.6 625.5,370.4 628.0,369.9 630.5,348.9 632.9,336.3 635.4,355.6 637.9,392.2 639.5,406.4 641.1,400.8 642.8,395.4 644.5,386.6 646.1,376.8 647.8,377.2 649.4,378.0 651.9,363.4 654.4,348.9 656.8,366.2 659.3,387.3" fill="none" stroke="#ff0000" stroke-width="2.3" stroke-linejoin="round" stroke-linecap="round" />
<polyline points="412.7,380.0 414.1,401.3 415.5,422.3 416.6,424.2 418.4,423.1 420.2,422.8 422.1,420.8 424.0,419.8 425.6,418.4 427.1,417.0 428.6,414.6 430.0,412.4 431.5,409.2 433.0,407.4 434.5,404.6 436.0,403.4 437.6,403.7 439.1,406.5 440.5,406.7 441.9,409.0 443.3,409.7 445.9,409.3 447.4,408.3 448.8,405.2 450.3,403.5 452.1,404.3 453.8,403.0 455.1,402.9 456.5,404.8 457.8,405.3 459.1,404.5 460.9,405.9 462.6,406.3 464.4,405.3 466.1,404.4 467.5,403.9 469.0,404.9 470.4,404.1 471.9,405.0 473.5,406.8 475.1,406.8 476.6,407.6 478.4,409.0 480.1,410.0 481.6,412.0 483.0,413.6 484.5,416.9 485.9,414.0 487.4,410.9 488.8,407.2 490.1,404.0 491.5,401.4 492.8,399.3 494.1,396.7 495.8,397.2 497.6,398.8 499.3,400.5 500.9,402.0 502.4,403.8 503.9,404.7 505.5,405.2 507.0,405.3 508.6,403.5 510.1,402.5 511.6,400.9 512.9,400.6 514.2,400.0 515.6,400.0 516.9,398.4 518.2,398.2 519.5,396.7 520.8,396.7 522.1,394.8 523.5,396.0 525.0,397.0 526.3,398.7 527.6,399.1 529.0,401.1 530.3,402.0 531.6,399.8 532.9,397.7 534.2,396.0 535.5,392.9 537.1,389.8 538.8,384.8 540.4,382.2 542.3,389.6 544.3,397.6 545.6,400.2 546.9,402.3 548.2,402.6 549.5,404.7 550.9,401.2 552.2,396.1 554.0,399.9 555.7,403.4 557.1,398.8 558.6,395.1 560.0,391.0 561.8,397.6 563.5,403.4 565.2,399.1 567.0,396.1 568.3,395.5 569.6,394.3 571.0,392.6 572.3,390.7 573.6,394.4 575.0,397.6 576.3,401.1 577.6,403.8 579.0,409.3 580.5,413.6 581.9,416.9 583.5,414.9 585.0,413.6 586.5,410.4 588.1,409.3 589.5,406.3 591.0,404.2 592.4,401.9 593.9,401.4 595.3,401.9 596.8,402.1 598.5,397.1 600.3,391.4 602.2,393.6 604.1,397.8 605.5,398.7 606.8,400.1 608.2,402.0 609.9,396.3 611.5,389.1 613.1,377.6 614.8,366.6 616.5,368.3 618.1,369.6 619.5,368.5 620.8,368.2 622.2,368.1 623.6,374.0 625.0,379.8 626.4,385.5 628.0,393.7 629.7,402.5 631.3,410.5 632.7,401.9 634.0,395.3 635.4,387.9 637.0,366.4 638.7,345.1 640.4,349.3 642.0,352.8 643.4,362.0 644.7,370.1 646.1,378.5 648.6,394.5 651.1,364.0 652.8,368.2 654.4,371.1 656.8,356.1 659.3,362.6" fill="none" stroke="#0000ff" stroke-width="2.3" stroke-linejoin="round" stroke-linecap="round" />
<polyline points="412.7,336.6 414.5,360.3 416.1,373.9 417.9,371.1 419.6,366.9 420.9,366.7 422.2,366.3 423.6,366.1 424.9,366.6 426.2,365.4 427.5,365.8 428.9,364.7 430.3,364.3 431.7,364.0 433.1,364.2 434.5,363.3 435.8,363.0 437.1,364.0 438.5,364.5 439.8,366.3 441.2,366.1 442.6,366.0 444.0,365.9 445.4,365.7 446.8,365.9 448.5,366.0 450.3,365.5 452.0,366.8 453.4,365.4 454.8,365.0 456.3,363.9 457.7,362.9 459.1,362.0 460.5,363.0 461.9,363.7 463.3,364.2 464.7,366.2 466.1,367.1 467.5,366.9 468.9,365.9 470.3,365.1 471.7,364.9 473.1,363.4 474.5,364.1 475.9,363.5 477.3,362.9 478.7,362.8 480.1,363.1 481.8,362.1 483.6,361.8 485.3,361.5 486.8,361.9 488.2,362.2 489.7,363.5 491.2,363.8 492.6,364.5 494.1,365.2 495.6,365.1 497.0,364.2 498.5,364.6 500.0,364.7 501.4,363.4 502.9,363.5 504.3,364.1 505.8,363.1 507.2,363.6 508.7,365.0 510.2,365.4 511.6,365.4 512.9,365.1 514.2,365.9 515.5,367.1 516.9,367.6 518.2,367.9 519.5,367.3 520.8,368.8 522.1,368.5 523.5,368.0 525.0,366.0 526.3,366.9 527.6,365.9 529.0,365.6 530.3,364.3 531.6,364.2 532.9,363.4 534.2,362.6 535.5,361.5 536.9,363.6 538.3,364.4 539.7,365.9 541.1,367.2 542.5,369.5 543.8,367.7 545.1,367.0 546.5,365.9 547.8,365.9 549.2,368.1 550.6,370.3 552.0,371.8 553.4,374.7 554.8,376.8 556.1,375.2 557.4,373.9 558.7,374.2 560.0,371.6 561.4,372.5 562.8,373.1 564.2,374.2 565.6,374.0 567.0,375.3 568.4,373.7 569.8,373.0 571.2,370.3 572.6,369.4 574.0,368.3 575.8,366.0 577.6,362.2 579.3,361.3 581.1,360.7 582.8,359.3 584.2,360.1 585.6,362.0 587.0,363.9 588.4,364.9 589.8,365.3 591.2,365.6 592.6,365.5 594.0,364.2 595.4,364.4 596.8,363.7 598.4,363.2 600.0,363.1 601.4,366.0 602.7,369.2 604.1,371.8 605.4,372.3 606.7,371.8 608.1,372.9 609.4,372.7 610.7,371.7 612.1,367.4 613.4,361.0 614.8,356.0 616.5,359.4 618.1,362.3 619.5,366.8 621.0,371.5 622.5,375.6 623.9,381.3 625.5,374.0 627.2,369.2 628.8,362.1 630.5,365.6 632.1,369.0 633.8,378.4 635.4,388.4 636.8,385.5 638.1,382.3 639.5,379.7 640.9,376.0 642.3,370.6 643.7,367.6 645.1,373.9 646.5,382.0 648.0,388.3 649.4,396.2 650.8,391.3 652.1,386.2 653.5,381.6 655.1,375.4 656.8,369.8 659.3,358.5" fill="none" stroke="#000" stroke-width="2.3" stroke-linejoin="round" stroke-linecap="round" />
<line x1="412.7" y1="267.8" x2="412.7" y2="450.7" stroke="#000" stroke-width="2.3" />
<line x1="411.6" y1="449.6" x2="660.3" y2="449.6" stroke="#000" stroke-width="2.3" />
<line x1="407.5" y1="268.9" x2="412.7" y2="268.9" stroke="#000" stroke-width="2.3" />
<text x="406.6" y="273.5" font-size="13.2" text-anchor="end" font-weight="bold" font-style="normal" fill="#000" >0.2</text>
<line x1="407.5" y1="314.2" x2="412.7" y2="314.2" stroke="#000" stroke-width="2.3" />
<text x="406.6" y="318.8" font-size="13.2" text-anchor="end" font-weight="bold" font-style="normal" fill="#000" >0.1</text>
<line x1="407.5" y1="359.5" x2="412.7" y2="359.5" stroke="#000" stroke-width="2.3" />
<text x="406.6" y="364.1" font-size="13.2" text-anchor="end" font-weight="bold" font-style="normal" fill="#000" >0.0</text>
<line x1="407.5" y1="404.8" x2="412.7" y2="404.8" stroke="#000" stroke-width="2.3" />
<text x="406.6" y="409.4" font-size="13.2" text-anchor="end" font-weight="bold" font-style="normal" fill="#000" >-0.1</text>
<line x1="407.5" y1="450.1" x2="412.7" y2="450.1" stroke="#000" stroke-width="2.3" />
<text x="406.6" y="454.7" font-size="13.2" text-anchor="end" font-weight="bold" font-style="normal" fill="#000" >-0.2</text>
<line x1="409.7" y1="291.6" x2="412.7" y2="291.6" stroke="#000" stroke-width="1.8" />
<line x1="409.7" y1="336.9" x2="412.7" y2="336.9" stroke="#000" stroke-width="1.8" />
<line x1="409.7" y1="382.1" x2="412.7" y2="382.1" stroke="#000" stroke-width="1.8" />
<line x1="409.7" y1="427.4" x2="412.7" y2="427.4" stroke="#000" stroke-width="1.8" />
<line x1="426.6" y1="449.6" x2="426.6" y2="454.8" stroke="#000" stroke-width="2.3" />
<text x="426.6" y="468.0" font-size="13" text-anchor="middle" font-weight="bold" font-style="normal" fill="#000" >100</text>
<line x1="473.1" y1="449.6" x2="473.1" y2="454.8" stroke="#000" stroke-width="2.3" />
<text x="473.1" y="468.0" font-size="13" text-anchor="middle" font-weight="bold" font-style="normal" fill="#000" >200</text>
<line x1="519.6" y1="449.6" x2="519.6" y2="454.8" stroke="#000" stroke-width="2.3" />
<text x="519.6" y="468.0" font-size="13" text-anchor="middle" font-weight="bold" font-style="normal" fill="#000" >300</text>
<line x1="566.1" y1="449.6" x2="566.1" y2="454.8" stroke="#000" stroke-width="2.3" />
<text x="566.1" y="468.0" font-size="13" text-anchor="middle" font-weight="bold" font-style="normal" fill="#000" >400</text>
<line x1="612.6" y1="449.6" x2="612.6" y2="454.8" stroke="#000" stroke-width="2.3" />
<text x="612.6" y="468.0" font-size="13" text-anchor="middle" font-weight="bold" font-style="normal" fill="#000" >500</text>
<line x1="659.1" y1="449.6" x2="659.1" y2="454.8" stroke="#000" stroke-width="2.3" />
<text x="659.1" y="468.0" font-size="13" text-anchor="middle" font-weight="bold" font-style="normal" fill="#000" >600</text>
<line x1="449.9" y1="449.6" x2="449.9" y2="452.8" stroke="#000" stroke-width="1.8" />
<line x1="496.4" y1="449.6" x2="496.4" y2="452.8" stroke="#000" stroke-width="1.8" />
<line x1="542.9" y1="449.6" x2="542.9" y2="452.8" stroke="#000" stroke-width="1.8" />
<line x1="589.4" y1="449.6" x2="589.4" y2="452.8" stroke="#000" stroke-width="1.8" />
<line x1="635.9" y1="449.6" x2="635.9" y2="452.8" stroke="#000" stroke-width="1.8" />
<text x="456.9" y="491.1" font-size="16" font-weight="bold" textLength="143.2" lengthAdjust="spacingAndGlyphs">Raman shift (cm<tspan font-size="10" dy="-6">-1</tspan><tspan dy="6">)</tspan></text>
<text transform="translate(377,439.6) rotate(-90)" font-size="16" font-weight="bold" textLength="146.5" lengthAdjust="spacingAndGlyphs">&#916;-value (arb. units)</text>
<text x="355.5" y="274.5" font-size="24" text-anchor="start" font-weight="bold" font-style="normal" fill="#000" >d</text>
<line x1="561.2" y1="281.8" x2="592.9" y2="281.8" stroke="#ff0000" stroke-width="2.4" />
<text x="599.7" y="286.5" font-size="13.2" font-weight="bold" textLength="59.4" lengthAdjust="spacingAndGlyphs"><tspan font-style="italic">L</tspan>-Cys-Se</text>
<line x1="561.2" y1="298.7" x2="592.9" y2="298.7" stroke="#0000ff" stroke-width="2.4" />
<text x="599.7" y="303.4" font-size="13.2" font-weight="bold" textLength="59.4" lengthAdjust="spacingAndGlyphs"><tspan font-style="italic">D</tspan>-Cys-Se</text>
<line x1="561.2" y1="315.7" x2="592.9" y2="315.7" stroke="#000" stroke-width="2.4" />
<text x="599.7" y="320.4" font-size="13.2" font-weight="bold" textLength="68.6" lengthAdjust="spacingAndGlyphs"><tspan font-style="italic">DL</tspan>-Cys-Se</text>
<rect x="40.80" y="837.40" width="16.28" height="15.58" fill="rgb(255,204,204)"/>
<rect x="56.78" y="837.40" width="16.28" height="15.58" fill="rgb(209,209,255)"/>
<rect x="72.76" y="837.40" width="16.28" height="15.58" fill="rgb(255,102,102)"/>
<rect x="88.74" y="837.40" width="16.28" height="15.58" fill="rgb(255,128,128)"/>
<rect x="104.72" y="837.40" width="16.28" height="15.58" fill="rgb(209,209,255)"/>
<rect x="120.70" y="837.40" width="16.28" height="15.58" fill="rgb(255,209,209)"/>
<rect x="136.68" y="837.40" width="16.28" height="15.58" fill="rgb(255,209,209)"/>
<rect x="152.66" y="837.40" width="16.28" height="15.58" fill="rgb(237,237,255)"/>
<rect x="168.64" y="837.40" width="16.28" height="15.58" fill="rgb(255,0,0)"/>
<rect x="184.62" y="837.40" width="16.28" height="15.58" fill="rgb(255,242,242)"/>
<rect x="40.80" y="852.68" width="16.28" height="15.58" fill="rgb(255,242,242)"/>
<rect x="56.78" y="852.68" width="16.28" height="15.58" fill="rgb(255,242,242)"/>
<rect x="72.76" y="852.68" width="16.28" height="15.58" fill="rgb(255,178,178)"/>
<rect x="88.74" y="852.68" width="16.28" height="15.58" fill="rgb(255,242,242)"/>
<rect x="104.72" y="852.68" width="16.28" height="15.58" fill="rgb(255,209,209)"/>
<rect x="120.70" y="852.68" width="16.28" height="15.58" fill="rgb(255,102,102)"/>
<rect x="136.68" y="852.68" width="16.28" height="15.58" fill="rgb(255,153,153)"/>
<rect x="152.66" y="852.68" width="16.28" height="15.58" fill="rgb(255,102,102)"/>
<rect x="168.64" y="852.68" width="16.28" height="15.58" fill="rgb(237,237,255)"/>
<rect x="184.62" y="852.68" width="16.28" height="15.58" fill="rgb(51,51,255)"/>
<rect x="40.80" y="867.96" width="16.28" height="15.58" fill="rgb(130,130,255)"/>
<rect x="56.78" y="867.96" width="16.28" height="15.58" fill="rgb(255,178,178)"/>
<rect x="72.76" y="867.96" width="16.28" height="15.58" fill="rgb(255,178,178)"/>
<rect x="88.74" y="867.96" width="16.28" height="15.58" fill="rgb(255,161,161)"/>
<rect x="104.72" y="867.96" width="16.28" height="15.58" fill="rgb(255,178,178)"/>
<rect x="120.70" y="867.96" width="16.28" height="15.58" fill="rgb(255,178,178)"/>
<rect x="136.68" y="867.96" width="16.28" height="15.58" fill="rgb(255,130,130)"/>
<rect x="152.66" y="867.96" width="16.28" height="15.58" fill="rgb(255,153,153)"/>
<rect x="168.64" y="867.96" width="16.28" height="15.58" fill="rgb(255,178,178)"/>
<rect x="184.62" y="867.96" width="16.28" height="15.58" fill="rgb(178,178,255)"/>
<rect x="40.80" y="883.24" width="16.28" height="15.58" fill="rgb(255,105,105)"/>
<rect x="56.78" y="883.24" width="16.28" height="15.58" fill="rgb(255,242,242)"/>
<rect x="72.76" y="883.24" width="16.28" height="15.58" fill="rgb(161,161,255)"/>
<rect x="88.74" y="883.24" width="16.28" height="15.58" fill="rgb(255,161,161)"/>
<rect x="104.72" y="883.24" width="16.28" height="15.58" fill="rgb(255,242,242)"/>
<rect x="120.70" y="883.24" width="16.28" height="15.58" fill="rgb(255,242,242)"/>
<rect x="136.68" y="883.24" width="16.28" height="15.58" fill="rgb(255,178,178)"/>
<rect x="152.66" y="883.24" width="16.28" height="15.58" fill="rgb(153,153,255)"/>
<rect x="168.64" y="883.24" width="16.28" height="15.58" fill="rgb(178,178,255)"/>
<rect x="184.62" y="883.24" width="16.28" height="15.58" fill="rgb(255,130,130)"/>
<rect x="40.80" y="898.52" width="16.28" height="15.58" fill="rgb(255,209,209)"/>
<rect x="56.78" y="898.52" width="16.28" height="15.58" fill="rgb(255,130,130)"/>
<rect x="72.76" y="898.52" width="16.28" height="15.58" fill="rgb(255,130,130)"/>
<rect x="88.74" y="898.52" width="16.28" height="15.58" fill="rgb(240,240,255)"/>
<rect x="104.72" y="898.52" width="16.28" height="15.58" fill="rgb(79,79,255)"/>
<rect x="120.70" y="898.52" width="16.28" height="15.58" fill="rgb(240,240,255)"/>
<rect x="136.68" y="898.52" width="16.28" height="15.58" fill="rgb(255,242,242)"/>
<rect x="152.66" y="898.52" width="16.28" height="15.58" fill="rgb(255,242,242)"/>
<rect x="168.64" y="898.52" width="16.28" height="15.58" fill="rgb(255,102,102)"/>
<rect x="184.62" y="898.52" width="16.28" height="15.58" fill="rgb(240,240,255)"/>
<rect x="40.80" y="913.80" width="16.28" height="15.58" fill="rgb(255,178,178)"/>
<rect x="56.78" y="913.80" width="16.28" height="15.58" fill="rgb(255,209,209)"/>
<rect x="72.76" y="913.80" width="16.28" height="15.58" fill="rgb(255,77,77)"/>
<rect x="88.74" y="913.80" width="16.28" height="15.58" fill="rgb(178,178,255)"/>
<rect x="104.72" y="913.80" width="16.28" height="15.58" fill="rgb(255,209,209)"/>
<rect x="120.70" y="913.80" width="16.28" height="15.58" fill="rgb(255,209,209)"/>
<rect x="136.68" y="913.80" width="16.28" height="15.58" fill="rgb(255,178,178)"/>
<rect x="152.66" y="913.80" width="16.28" height="15.58" fill="rgb(255,77,77)"/>
<rect x="168.64" y="913.80" width="16.28" height="15.58" fill="rgb(255,209,209)"/>
<rect x="184.62" y="913.80" width="16.28" height="15.58" fill="rgb(255,153,153)"/>
<rect x="40.80" y="929.08" width="16.28" height="15.58" fill="rgb(255,242,242)"/>
<rect x="56.78" y="929.08" width="16.28" height="15.58" fill="rgb(255,77,77)"/>
<rect x="72.76" y="929.08" width="16.28" height="15.58" fill="rgb(255,242,242)"/>
<rect x="88.74" y="929.08" width="16.28" height="15.58" fill="rgb(255,130,130)"/>
<rect x="104.72" y="929.08" width="16.28" height="15.58" fill="rgb(255,130,130)"/>
<rect x="120.70" y="929.08" width="16.28" height="15.58" fill="rgb(255,77,77)"/>
<rect x="136.68" y="929.08" width="16.28" height="15.58" fill="rgb(255,209,209)"/>
<rect x="152.66" y="929.08" width="16.28" height="15.58" fill="rgb(237,237,255)"/>
<rect x="168.64" y="929.08" width="16.28" height="15.58" fill="rgb(255,153,153)"/>
<rect x="184.62" y="929.08" width="16.28" height="15.58" fill="rgb(255,153,153)"/>
<rect x="40.80" y="944.36" width="16.28" height="15.58" fill="rgb(237,237,255)"/>
<rect x="56.78" y="944.36" width="16.28" height="15.58" fill="rgb(255,130,130)"/>
<rect x="72.76" y="944.36" width="16.28" height="15.58" fill="rgb(255,209,209)"/>
<rect x="88.74" y="944.36" width="16.28" height="15.58" fill="rgb(255,102,102)"/>
<rect x="104.72" y="944.36" width="16.28" height="15.58" fill="rgb(255,25,25)"/>
<rect x="120.70" y="944.36" width="16.28" height="15.58" fill="rgb(255,209,209)"/>
<rect x="136.68" y="944.36" width="16.28" height="15.58" fill="rgb(255,209,209)"/>
<rect x="152.66" y="944.36" width="16.28" height="15.58" fill="rgb(255,130,130)"/>
<rect x="168.64" y="944.36" width="16.28" height="15.58" fill="rgb(255,178,178)"/>
<rect x="184.62" y="944.36" width="16.28" height="15.58" fill="rgb(255,130,130)"/>
<rect x="40.80" y="959.64" width="16.28" height="15.58" fill="rgb(237,237,255)"/>
<rect x="56.78" y="959.64" width="16.28" height="15.58" fill="rgb(255,130,130)"/>
<rect x="72.76" y="959.64" width="16.28" height="15.58" fill="rgb(255,130,130)"/>
<rect x="88.74" y="959.64" width="16.28" height="15.58" fill="rgb(153,153,255)"/>
<rect x="104.72" y="959.64" width="16.28" height="15.58" fill="rgb(255,153,153)"/>
<rect x="120.70" y="959.64" width="16.28" height="15.58" fill="rgb(209,209,255)"/>
<rect x="136.68" y="959.64" width="16.28" height="15.58" fill="rgb(255,242,242)"/>
<rect x="152.66" y="959.64" width="16.28" height="15.58" fill="rgb(237,237,255)"/>
<rect x="168.64" y="959.64" width="16.28" height="15.58" fill="rgb(255,153,153)"/>
<rect x="184.62" y="959.64" width="16.28" height="15.58" fill="rgb(255,209,209)"/>
<rect x="40.80" y="974.92" width="16.28" height="15.58" fill="rgb(255,242,242)"/>
<rect x="56.78" y="974.92" width="16.28" height="15.58" fill="rgb(237,237,255)"/>
<rect x="72.76" y="974.92" width="16.28" height="15.58" fill="rgb(255,178,178)"/>
<rect x="88.74" y="974.92" width="16.28" height="15.58" fill="rgb(209,209,255)"/>
<rect x="104.72" y="974.92" width="16.28" height="15.58" fill="rgb(255,209,209)"/>
<rect x="120.70" y="974.92" width="16.28" height="15.58" fill="rgb(255,130,130)"/>
<rect x="136.68" y="974.92" width="16.28" height="15.58" fill="rgb(255,51,51)"/>
<rect x="152.66" y="974.92" width="16.28" height="15.58" fill="rgb(255,178,178)"/>
<rect x="168.64" y="974.92" width="16.28" height="15.58" fill="rgb(255,178,178)"/>
<rect x="184.62" y="974.92" width="16.28" height="15.58" fill="rgb(209,209,255)"/>
<rect x="40.8" y="837.4" width="159.8" height="152.8" fill="none" stroke="#555" stroke-width="1.2"/>
<line x1="37.3" y1="860.3" x2="40.8" y2="860.3" stroke="#333" stroke-width="1.0" />
<text x="35.4" y="864.8" font-size="12.8" text-anchor="end" font-weight="bold" font-style="normal" fill="#000" >20</text>
<line x1="37.3" y1="890.9" x2="40.8" y2="890.9" stroke="#333" stroke-width="1.0" />
<text x="35.4" y="895.4" font-size="12.8" text-anchor="end" font-weight="bold" font-style="normal" fill="#000" >10</text>
<line x1="37.3" y1="921.4" x2="40.8" y2="921.4" stroke="#333" stroke-width="1.0" />
<text x="35.4" y="925.9" font-size="12.8" text-anchor="end" font-weight="bold" font-style="normal" fill="#000" >0</text>
<line x1="37.3" y1="952.0" x2="40.8" y2="952.0" stroke="#333" stroke-width="1.0" />
<text x="35.4" y="956.5" font-size="12.8" text-anchor="end" font-weight="bold" font-style="normal" fill="#000" >&#8722;10</text>
<line x1="37.3" y1="982.6" x2="40.8" y2="982.6" stroke="#333" stroke-width="1.0" />
<text x="35.4" y="987.1" font-size="12.8" text-anchor="end" font-weight="bold" font-style="normal" fill="#000" >&#8722;20</text>
<line x1="48.8" y1="990.2" x2="48.8" y2="993.7" stroke="#333" stroke-width="1.0" />
<text transform="translate(53.3,995.7) rotate(-90)" font-size="12.8" font-weight="bold" text-anchor="end">&#8722;20</text>
<line x1="80.8" y1="990.2" x2="80.8" y2="993.7" stroke="#333" stroke-width="1.0" />
<text transform="translate(85.2,995.7) rotate(-90)" font-size="12.8" font-weight="bold" text-anchor="end">&#8722;10</text>
<line x1="112.7" y1="990.2" x2="112.7" y2="993.7" stroke="#333" stroke-width="1.0" />
<text transform="translate(117.2,995.7) rotate(-90)" font-size="12.8" font-weight="bold" text-anchor="end">0</text>
<line x1="144.7" y1="990.2" x2="144.7" y2="993.7" stroke="#333" stroke-width="1.0" />
<text transform="translate(149.2,995.7) rotate(-90)" font-size="12.8" font-weight="bold" text-anchor="end">10</text>
<line x1="176.6" y1="990.2" x2="176.6" y2="993.7" stroke="#333" stroke-width="1.0" />
<text transform="translate(181.1,995.7) rotate(-90)" font-size="12.8" font-weight="bold" text-anchor="end">20</text>
<text x="88.4" y="1026.3" font-size="17.5" font-weight="bold" textLength="56.1" lengthAdjust="spacingAndGlyphs">X (&#956;m)</text>
<text transform="translate(13.6,935.2) rotate(-90)" font-size="18" font-weight="bold" textLength="56.8" lengthAdjust="spacingAndGlyphs">Y (&#956;m)</text>
<text x="10.3" y="837.9" font-size="24" text-anchor="start" font-weight="bold" font-style="normal" fill="#000" >f</text>
<rect x="250.00" y="837.20" width="16.18" height="15.56" fill="rgb(224,224,255)"/>
<rect x="265.88" y="837.20" width="16.18" height="15.56" fill="rgb(115,115,255)"/>
<rect x="281.76" y="837.20" width="16.18" height="15.56" fill="rgb(166,166,255)"/>
<rect x="297.64" y="837.20" width="16.18" height="15.56" fill="rgb(191,191,255)"/>
<rect x="313.52" y="837.20" width="16.18" height="15.56" fill="rgb(255,255,255)"/>
<rect x="329.40" y="837.20" width="16.18" height="15.56" fill="rgb(224,224,255)"/>
<rect x="345.28" y="837.20" width="16.18" height="15.56" fill="rgb(224,224,255)"/>
<rect x="361.16" y="837.20" width="16.18" height="15.56" fill="rgb(77,77,255)"/>
<rect x="377.04" y="837.20" width="16.18" height="15.56" fill="rgb(255,224,224)"/>
<rect x="392.92" y="837.20" width="16.18" height="15.56" fill="rgb(140,140,255)"/>
<rect x="250.00" y="852.46" width="16.18" height="15.56" fill="rgb(224,224,255)"/>
<rect x="265.88" y="852.46" width="16.18" height="15.56" fill="rgb(191,191,255)"/>
<rect x="281.76" y="852.46" width="16.18" height="15.56" fill="rgb(140,140,255)"/>
<rect x="297.64" y="852.46" width="16.18" height="15.56" fill="rgb(191,191,255)"/>
<rect x="313.52" y="852.46" width="16.18" height="15.56" fill="rgb(166,166,255)"/>
<rect x="329.40" y="852.46" width="16.18" height="15.56" fill="rgb(166,166,255)"/>
<rect x="345.28" y="852.46" width="16.18" height="15.56" fill="rgb(166,166,255)"/>
<rect x="361.16" y="852.46" width="16.18" height="15.56" fill="rgb(255,77,77)"/>
<rect x="377.04" y="852.46" width="16.18" height="15.56" fill="rgb(166,166,255)"/>
<rect x="392.92" y="852.46" width="16.18" height="15.56" fill="rgb(89,89,255)"/>
<rect x="250.00" y="867.72" width="16.18" height="15.56" fill="rgb(255,166,166)"/>
<rect x="265.88" y="867.72" width="16.18" height="15.56" fill="rgb(140,140,255)"/>
<rect x="281.76" y="867.72" width="16.18" height="15.56" fill="rgb(255,255,255)"/>
<rect x="297.64" y="867.72" width="16.18" height="15.56" fill="rgb(255,224,224)"/>
<rect x="313.52" y="867.72" width="16.18" height="15.56" fill="rgb(0,0,255)"/>
<rect x="329.40" y="867.72" width="16.18" height="15.56" fill="rgb(224,224,255)"/>
<rect x="345.28" y="867.72" width="16.18" height="15.56" fill="rgb(140,140,255)"/>
<rect x="361.16" y="867.72" width="16.18" height="15.56" fill="rgb(224,224,255)"/>
<rect x="377.04" y="867.72" width="16.18" height="15.56" fill="rgb(255,191,191)"/>
<rect x="392.92" y="867.72" width="16.18" height="15.56" fill="rgb(140,140,255)"/>
<rect x="250.00" y="882.98" width="16.18" height="15.56" fill="rgb(115,115,255)"/>
<rect x="265.88" y="882.98" width="16.18" height="15.56" fill="rgb(166,166,255)"/>
<rect x="281.76" y="882.98" width="16.18" height="15.56" fill="rgb(224,224,255)"/>
<rect x="297.64" y="882.98" width="16.18" height="15.56" fill="rgb(191,191,255)"/>
<rect x="313.52" y="882.98" width="16.18" height="15.56" fill="rgb(224,224,255)"/>
<rect x="329.40" y="882.98" width="16.18" height="15.56" fill="rgb(166,166,255)"/>
<rect x="345.28" y="882.98" width="16.18" height="15.56" fill="rgb(255,77,77)"/>
<rect x="361.16" y="882.98" width="16.18" height="15.56" fill="rgb(51,51,255)"/>
<rect x="377.04" y="882.98" width="16.18" height="15.56" fill="rgb(115,115,255)"/>
<rect x="392.92" y="882.98" width="16.18" height="15.56" fill="rgb(191,191,255)"/>
<rect x="250.00" y="898.24" width="16.18" height="15.56" fill="rgb(191,191,255)"/>
<rect x="265.88" y="898.24" width="16.18" height="15.56" fill="rgb(191,191,255)"/>
<rect x="281.76" y="898.24" width="16.18" height="15.56" fill="rgb(115,115,255)"/>
<rect x="297.64" y="898.24" width="16.18" height="15.56" fill="rgb(166,166,255)"/>
<rect x="313.52" y="898.24" width="16.18" height="15.56" fill="rgb(255,115,115)"/>
<rect x="329.40" y="898.24" width="16.18" height="15.56" fill="rgb(166,166,255)"/>
<rect x="345.28" y="898.24" width="16.18" height="15.56" fill="rgb(166,166,255)"/>
<rect x="361.16" y="898.24" width="16.18" height="15.56" fill="rgb(255,128,128)"/>
<rect x="377.04" y="898.24" width="16.18" height="15.56" fill="rgb(89,89,255)"/>
<rect x="392.92" y="898.24" width="16.18" height="15.56" fill="rgb(255,255,255)"/>
<rect x="250.00" y="913.50" width="16.18" height="15.56" fill="rgb(255,191,191)"/>
<rect x="265.88" y="913.50" width="16.18" height="15.56" fill="rgb(166,166,255)"/>
<rect x="281.76" y="913.50" width="16.18" height="15.56" fill="rgb(255,224,224)"/>
<rect x="297.64" y="913.50" width="16.18" height="15.56" fill="rgb(255,224,224)"/>
<rect x="313.52" y="913.50" width="16.18" height="15.56" fill="rgb(224,224,255)"/>
<rect x="329.40" y="913.50" width="16.18" height="15.56" fill="rgb(224,224,255)"/>
<rect x="345.28" y="913.50" width="16.18" height="15.56" fill="rgb(166,166,255)"/>
<rect x="361.16" y="913.50" width="16.18" height="15.56" fill="rgb(140,140,255)"/>
<rect x="377.04" y="913.50" width="16.18" height="15.56" fill="rgb(89,89,255)"/>
<rect x="392.92" y="913.50" width="16.18" height="15.56" fill="rgb(140,140,255)"/>
<rect x="250.00" y="928.76" width="16.18" height="15.56" fill="rgb(166,166,255)"/>
<rect x="265.88" y="928.76" width="16.18" height="15.56" fill="rgb(115,115,255)"/>
<rect x="281.76" y="928.76" width="16.18" height="15.56" fill="rgb(51,51,255)"/>
<rect x="297.64" y="928.76" width="16.18" height="15.56" fill="rgb(115,115,255)"/>
<rect x="313.52" y="928.76" width="16.18" height="15.56" fill="rgb(255,255,255)"/>
<rect x="329.40" y="928.76" width="16.18" height="15.56" fill="rgb(255,224,224)"/>
<rect x="345.28" y="928.76" width="16.18" height="15.56" fill="rgb(0,0,255)"/>
<rect x="361.16" y="928.76" width="16.18" height="15.56" fill="rgb(224,224,255)"/>
<rect x="377.04" y="928.76" width="16.18" height="15.56" fill="rgb(255,255,255)"/>
<rect x="392.92" y="928.76" width="16.18" height="15.56" fill="rgb(25,25,255)"/>
<rect x="250.00" y="944.02" width="16.18" height="15.56" fill="rgb(140,140,255)"/>
<rect x="265.88" y="944.02" width="16.18" height="15.56" fill="rgb(115,115,255)"/>
<rect x="281.76" y="944.02" width="16.18" height="15.56" fill="rgb(191,191,255)"/>
<rect x="297.64" y="944.02" width="16.18" height="15.56" fill="rgb(51,51,255)"/>
<rect x="313.52" y="944.02" width="16.18" height="15.56" fill="rgb(89,89,255)"/>
<rect x="329.40" y="944.02" width="16.18" height="15.56" fill="rgb(166,166,255)"/>
<rect x="345.28" y="944.02" width="16.18" height="15.56" fill="rgb(115,115,255)"/>
<rect x="361.16" y="944.02" width="16.18" height="15.56" fill="rgb(255,255,255)"/>
<rect x="377.04" y="944.02" width="16.18" height="15.56" fill="rgb(255,255,255)"/>
<rect x="392.92" y="944.02" width="16.18" height="15.56" fill="rgb(255,224,224)"/>
<rect x="250.00" y="959.28" width="16.18" height="15.56" fill="rgb(191,191,255)"/>
<rect x="265.88" y="959.28" width="16.18" height="15.56" fill="rgb(255,224,224)"/>
<rect x="281.76" y="959.28" width="16.18" height="15.56" fill="rgb(191,191,255)"/>
<rect x="297.64" y="959.28" width="16.18" height="15.56" fill="rgb(166,166,255)"/>
<rect x="313.52" y="959.28" width="16.18" height="15.56" fill="rgb(25,25,255)"/>
<rect x="329.40" y="959.28" width="16.18" height="15.56" fill="rgb(255,166,166)"/>
<rect x="345.28" y="959.28" width="16.18" height="15.56" fill="rgb(89,89,255)"/>
<rect x="361.16" y="959.28" width="16.18" height="15.56" fill="rgb(255,166,166)"/>
<rect x="377.04" y="959.28" width="16.18" height="15.56" fill="rgb(255,255,255)"/>
<rect x="392.92" y="959.28" width="16.18" height="15.56" fill="rgb(140,140,255)"/>
<rect x="250.00" y="974.54" width="16.18" height="15.56" fill="rgb(224,224,255)"/>
<rect x="265.88" y="974.54" width="16.18" height="15.56" fill="rgb(115,115,255)"/>
<rect x="281.76" y="974.54" width="16.18" height="15.56" fill="rgb(255,255,255)"/>
<rect x="297.64" y="974.54" width="16.18" height="15.56" fill="rgb(115,115,255)"/>
<rect x="313.52" y="974.54" width="16.18" height="15.56" fill="rgb(191,191,255)"/>
<rect x="329.40" y="974.54" width="16.18" height="15.56" fill="rgb(166,166,255)"/>
<rect x="345.28" y="974.54" width="16.18" height="15.56" fill="rgb(255,102,102)"/>
<rect x="361.16" y="974.54" width="16.18" height="15.56" fill="rgb(255,166,166)"/>
<rect x="377.04" y="974.54" width="16.18" height="15.56" fill="rgb(255,191,191)"/>
<rect x="392.92" y="974.54" width="16.18" height="15.56" fill="rgb(224,224,255)"/>
<rect x="250.0" y="837.2" width="158.8" height="152.6" fill="none" stroke="#555" stroke-width="1.2"/>
<line x1="246.5" y1="860.1" x2="250.0" y2="860.1" stroke="#333" stroke-width="1.0" />
<text x="244.6" y="864.6" font-size="12.8" text-anchor="end" font-weight="bold" font-style="normal" fill="#000" >20</text>
<line x1="246.5" y1="890.6" x2="250.0" y2="890.6" stroke="#333" stroke-width="1.0" />
<text x="244.6" y="895.1" font-size="12.8" text-anchor="end" font-weight="bold" font-style="normal" fill="#000" >10</text>
<line x1="246.5" y1="921.1" x2="250.0" y2="921.1" stroke="#333" stroke-width="1.0" />
<text x="244.6" y="925.6" font-size="12.8" text-anchor="end" font-weight="bold" font-style="normal" fill="#000" >0</text>
<line x1="246.5" y1="951.6" x2="250.0" y2="951.6" stroke="#333" stroke-width="1.0" />
<text x="244.6" y="956.1" font-size="12.8" text-anchor="end" font-weight="bold" font-style="normal" fill="#000" >&#8722;10</text>
<line x1="246.5" y1="982.2" x2="250.0" y2="982.2" stroke="#333" stroke-width="1.0" />
<text x="244.6" y="986.7" font-size="12.8" text-anchor="end" font-weight="bold" font-style="normal" fill="#000" >&#8722;20</text>
<line x1="257.9" y1="989.8" x2="257.9" y2="993.3" stroke="#333" stroke-width="1.0" />
<text transform="translate(262.4,995.3) rotate(-90)" font-size="12.8" font-weight="bold" text-anchor="end">&#8722;20</text>
<line x1="289.7" y1="989.8" x2="289.7" y2="993.3" stroke="#333" stroke-width="1.0" />
<text transform="translate(294.2,995.3) rotate(-90)" font-size="12.8" font-weight="bold" text-anchor="end">&#8722;10</text>
<line x1="321.5" y1="989.8" x2="321.5" y2="993.3" stroke="#333" stroke-width="1.0" />
<text transform="translate(326.0,995.3) rotate(-90)" font-size="12.8" font-weight="bold" text-anchor="end">0</text>
<line x1="353.2" y1="989.8" x2="353.2" y2="993.3" stroke="#333" stroke-width="1.0" />
<text transform="translate(357.7,995.3) rotate(-90)" font-size="12.8" font-weight="bold" text-anchor="end">10</text>
<line x1="385.0" y1="989.8" x2="385.0" y2="993.3" stroke="#333" stroke-width="1.0" />
<text transform="translate(389.5,995.3) rotate(-90)" font-size="12.8" font-weight="bold" text-anchor="end">20</text>
<text x="304.9" y="1026.3" font-size="17.5" font-weight="bold" textLength="56.1" lengthAdjust="spacingAndGlyphs">X (&#956;m)</text>
<text transform="translate(223.0,935.2) rotate(-90)" font-size="18" font-weight="bold" textLength="56.8" lengthAdjust="spacingAndGlyphs">Y (&#956;m)</text>
<text x="215.6" y="837.7" font-size="24" text-anchor="start" font-weight="bold" font-style="normal" fill="#000" >g</text>
<rect x="458.40" y="834.70" width="16.20" height="15.53" fill="rgb(240,240,255)"/>
<rect x="474.30" y="834.70" width="16.20" height="15.53" fill="rgb(255,209,209)"/>
<rect x="490.20" y="834.70" width="16.20" height="15.53" fill="rgb(209,209,255)"/>
<rect x="506.10" y="834.70" width="16.20" height="15.53" fill="rgb(128,128,255)"/>
<rect x="522.00" y="834.70" width="16.20" height="15.53" fill="rgb(209,209,255)"/>
<rect x="537.90" y="834.70" width="16.20" height="15.53" fill="rgb(209,209,255)"/>
<rect x="553.80" y="834.70" width="16.20" height="15.53" fill="rgb(51,51,255)"/>
<rect x="569.70" y="834.70" width="16.20" height="15.53" fill="rgb(255,178,178)"/>
<rect x="585.60" y="834.70" width="16.20" height="15.53" fill="rgb(77,77,255)"/>
<rect x="601.50" y="834.70" width="16.20" height="15.53" fill="rgb(255,102,102)"/>
<rect x="458.40" y="849.93" width="16.20" height="15.53" fill="rgb(255,51,51)"/>
<rect x="474.30" y="849.93" width="16.20" height="15.53" fill="rgb(255,209,209)"/>
<rect x="490.20" y="849.93" width="16.20" height="15.53" fill="rgb(255,209,209)"/>
<rect x="506.10" y="849.93" width="16.20" height="15.53" fill="rgb(255,158,158)"/>
<rect x="522.00" y="849.93" width="16.20" height="15.53" fill="rgb(25,25,255)"/>
<rect x="537.90" y="849.93" width="16.20" height="15.53" fill="rgb(115,115,255)"/>
<rect x="553.80" y="849.93" width="16.20" height="15.53" fill="rgb(0,0,255)"/>
<rect x="569.70" y="849.93" width="16.20" height="15.53" fill="rgb(140,140,255)"/>
<rect x="585.60" y="849.93" width="16.20" height="15.53" fill="rgb(140,140,255)"/>
<rect x="601.50" y="849.93" width="16.20" height="15.53" fill="rgb(255,242,242)"/>
<rect x="458.40" y="865.16" width="16.20" height="15.53" fill="rgb(255,242,242)"/>
<rect x="474.30" y="865.16" width="16.20" height="15.53" fill="rgb(255,209,209)"/>
<rect x="490.20" y="865.16" width="16.20" height="15.53" fill="rgb(184,184,255)"/>
<rect x="506.10" y="865.16" width="16.20" height="15.53" fill="rgb(184,184,255)"/>
<rect x="522.00" y="865.16" width="16.20" height="15.53" fill="rgb(240,240,255)"/>
<rect x="537.90" y="865.16" width="16.20" height="15.53" fill="rgb(158,158,255)"/>
<rect x="553.80" y="865.16" width="16.20" height="15.53" fill="rgb(128,128,255)"/>
<rect x="569.70" y="865.16" width="16.20" height="15.53" fill="rgb(240,240,255)"/>
<rect x="585.60" y="865.16" width="16.20" height="15.53" fill="rgb(209,209,255)"/>
<rect x="601.50" y="865.16" width="16.20" height="15.53" fill="rgb(255,209,209)"/>
<rect x="458.40" y="880.39" width="16.20" height="15.53" fill="rgb(255,242,242)"/>
<rect x="474.30" y="880.39" width="16.20" height="15.53" fill="rgb(255,158,158)"/>
<rect x="490.20" y="880.39" width="16.20" height="15.53" fill="rgb(209,209,255)"/>
<rect x="506.10" y="880.39" width="16.20" height="15.53" fill="rgb(255,242,242)"/>
<rect x="522.00" y="880.39" width="16.20" height="15.53" fill="rgb(255,242,242)"/>
<rect x="537.90" y="880.39" width="16.20" height="15.53" fill="rgb(158,158,255)"/>
<rect x="553.80" y="880.39" width="16.20" height="15.53" fill="rgb(209,209,255)"/>
<rect x="569.70" y="880.39" width="16.20" height="15.53" fill="rgb(255,242,242)"/>
<rect x="585.60" y="880.39" width="16.20" height="15.53" fill="rgb(128,128,255)"/>
<rect x="601.50" y="880.39" width="16.20" height="15.53" fill="rgb(255,209,209)"/>
<rect x="458.40" y="895.62" width="16.20" height="15.53" fill="rgb(255,178,178)"/>
<rect x="474.30" y="895.62" width="16.20" height="15.53" fill="rgb(255,242,242)"/>
<rect x="490.20" y="895.62" width="16.20" height="15.53" fill="rgb(255,209,209)"/>
<rect x="506.10" y="895.62" width="16.20" height="15.53" fill="rgb(240,240,255)"/>
<rect x="522.00" y="895.62" width="16.20" height="15.53" fill="rgb(240,240,255)"/>
<rect x="537.90" y="895.62" width="16.20" height="15.53" fill="rgb(184,184,255)"/>
<rect x="553.80" y="895.62" width="16.20" height="15.53" fill="rgb(255,153,153)"/>
<rect x="569.70" y="895.62" width="16.20" height="15.53" fill="rgb(184,184,255)"/>
<rect x="585.60" y="895.62" width="16.20" height="15.53" fill="rgb(255,178,178)"/>
<rect x="601.50" y="895.62" width="16.20" height="15.53" fill="rgb(255,242,242)"/>
<rect x="458.40" y="910.85" width="16.20" height="15.53" fill="rgb(209,209,255)"/>
<rect x="474.30" y="910.85" width="16.20" height="15.53" fill="rgb(255,242,242)"/>
<rect x="490.20" y="910.85" width="16.20" height="15.53" fill="rgb(255,178,178)"/>
<rect x="506.10" y="910.85" width="16.20" height="15.53" fill="rgb(255,209,209)"/>
<rect x="522.00" y="910.85" width="16.20" height="15.53" fill="rgb(240,240,255)"/>
<rect x="537.90" y="910.85" width="16.20" height="15.53" fill="rgb(255,242,242)"/>
<rect x="553.80" y="910.85" width="16.20" height="15.53" fill="rgb(51,51,255)"/>
<rect x="569.70" y="910.85" width="16.20" height="15.53" fill="rgb(240,240,255)"/>
<rect x="585.60" y="910.85" width="16.20" height="15.53" fill="rgb(255,153,153)"/>
<rect x="601.50" y="910.85" width="16.20" height="15.53" fill="rgb(209,209,255)"/>
<rect x="458.40" y="926.08" width="16.20" height="15.53" fill="rgb(240,240,255)"/>
<rect x="474.30" y="926.08" width="16.20" height="15.53" fill="rgb(255,242,242)"/>
<rect x="490.20" y="926.08" width="16.20" height="15.53" fill="rgb(255,178,178)"/>
<rect x="506.10" y="926.08" width="16.20" height="15.53" fill="rgb(255,209,209)"/>
<rect x="522.00" y="926.08" width="16.20" height="15.53" fill="rgb(255,209,209)"/>
<rect x="537.90" y="926.08" width="16.20" height="15.53" fill="rgb(184,184,255)"/>
<rect x="553.80" y="926.08" width="16.20" height="15.53" fill="rgb(209,209,255)"/>
<rect x="569.70" y="926.08" width="16.20" height="15.53" fill="rgb(240,240,255)"/>
<rect x="585.60" y="926.08" width="16.20" height="15.53" fill="rgb(255,242,242)"/>
<rect x="601.50" y="926.08" width="16.20" height="15.53" fill="rgb(128,128,255)"/>
<rect x="458.40" y="941.31" width="16.20" height="15.53" fill="rgb(255,128,128)"/>
<rect x="474.30" y="941.31" width="16.20" height="15.53" fill="rgb(255,242,242)"/>
<rect x="490.20" y="941.31" width="16.20" height="15.53" fill="rgb(255,0,0)"/>
<rect x="506.10" y="941.31" width="16.20" height="15.53" fill="rgb(255,184,184)"/>
<rect x="522.00" y="941.31" width="16.20" height="15.53" fill="rgb(158,158,255)"/>
<rect x="537.90" y="941.31" width="16.20" height="15.53" fill="rgb(158,158,255)"/>
<rect x="553.80" y="941.31" width="16.20" height="15.53" fill="rgb(255,158,158)"/>
<rect x="569.70" y="941.31" width="16.20" height="15.53" fill="rgb(255,178,178)"/>
<rect x="585.60" y="941.31" width="16.20" height="15.53" fill="rgb(255,242,242)"/>
<rect x="601.50" y="941.31" width="16.20" height="15.53" fill="rgb(255,102,102)"/>
<rect x="458.40" y="956.54" width="16.20" height="15.53" fill="rgb(255,242,242)"/>
<rect x="474.30" y="956.54" width="16.20" height="15.53" fill="rgb(255,102,102)"/>
<rect x="490.20" y="956.54" width="16.20" height="15.53" fill="rgb(255,178,178)"/>
<rect x="506.10" y="956.54" width="16.20" height="15.53" fill="rgb(255,209,209)"/>
<rect x="522.00" y="956.54" width="16.20" height="15.53" fill="rgb(255,209,209)"/>
<rect x="537.90" y="956.54" width="16.20" height="15.53" fill="rgb(128,128,255)"/>
<rect x="553.80" y="956.54" width="16.20" height="15.53" fill="rgb(240,240,255)"/>
<rect x="569.70" y="956.54" width="16.20" height="15.53" fill="rgb(128,128,255)"/>
<rect x="585.60" y="956.54" width="16.20" height="15.53" fill="rgb(255,209,209)"/>
<rect x="601.50" y="956.54" width="16.20" height="15.53" fill="rgb(209,209,255)"/>
<rect x="458.40" y="971.77" width="16.20" height="15.53" fill="rgb(255,242,242)"/>
<rect x="474.30" y="971.77" width="16.20" height="15.53" fill="rgb(209,209,255)"/>
<rect x="490.20" y="971.77" width="16.20" height="15.53" fill="rgb(240,240,255)"/>
<rect x="506.10" y="971.77" width="16.20" height="15.53" fill="rgb(255,178,178)"/>
<rect x="522.00" y="971.77" width="16.20" height="15.53" fill="rgb(240,240,255)"/>
<rect x="537.90" y="971.77" width="16.20" height="15.53" fill="rgb(77,77,255)"/>
<rect x="553.80" y="971.77" width="16.20" height="15.53" fill="rgb(128,128,255)"/>
<rect x="569.70" y="971.77" width="16.20" height="15.53" fill="rgb(102,102,255)"/>
<rect x="585.60" y="971.77" width="16.20" height="15.53" fill="rgb(158,158,255)"/>
<rect x="601.50" y="971.77" width="16.20" height="15.53" fill="rgb(240,240,255)"/>
<rect x="458.4" y="834.7" width="159.0" height="152.3" fill="none" stroke="#555" stroke-width="1.2"/>
<line x1="454.9" y1="857.5" x2="458.4" y2="857.5" stroke="#333" stroke-width="1.0" />
<text x="453.0" y="862.0" font-size="12.8" text-anchor="end" font-weight="bold" font-style="normal" fill="#000" >20</text>
<line x1="454.9" y1="888.0" x2="458.4" y2="888.0" stroke="#333" stroke-width="1.0" />
<text x="453.0" y="892.5" font-size="12.8" text-anchor="end" font-weight="bold" font-style="normal" fill="#000" >10</text>
<line x1="454.9" y1="918.5" x2="458.4" y2="918.5" stroke="#333" stroke-width="1.0" />
<text x="453.0" y="923.0" font-size="12.8" text-anchor="end" font-weight="bold" font-style="normal" fill="#000" >0</text>
<line x1="454.9" y1="948.9" x2="458.4" y2="948.9" stroke="#333" stroke-width="1.0" />
<text x="453.0" y="953.4" font-size="12.8" text-anchor="end" font-weight="bold" font-style="normal" fill="#000" >&#8722;10</text>
<line x1="454.9" y1="979.4" x2="458.4" y2="979.4" stroke="#333" stroke-width="1.0" />
<text x="453.0" y="983.9" font-size="12.8" text-anchor="end" font-weight="bold" font-style="normal" fill="#000" >&#8722;20</text>
<line x1="466.3" y1="987.0" x2="466.3" y2="990.5" stroke="#333" stroke-width="1.0" />
<text transform="translate(470.8,992.5) rotate(-90)" font-size="12.8" font-weight="bold" text-anchor="end">&#8722;20</text>
<line x1="498.1" y1="987.0" x2="498.1" y2="990.5" stroke="#333" stroke-width="1.0" />
<text transform="translate(502.6,992.5) rotate(-90)" font-size="12.8" font-weight="bold" text-anchor="end">&#8722;10</text>
<line x1="529.9" y1="987.0" x2="529.9" y2="990.5" stroke="#333" stroke-width="1.0" />
<text transform="translate(534.4,992.5) rotate(-90)" font-size="12.8" font-weight="bold" text-anchor="end">0</text>
<line x1="561.8" y1="987.0" x2="561.8" y2="990.5" stroke="#333" stroke-width="1.0" />
<text transform="translate(566.2,992.5) rotate(-90)" font-size="12.8" font-weight="bold" text-anchor="end">10</text>
<line x1="593.5" y1="987.0" x2="593.5" y2="990.5" stroke="#333" stroke-width="1.0" />
<text transform="translate(598.0,992.5) rotate(-90)" font-size="12.8" font-weight="bold" text-anchor="end">20</text>
<text x="520.4" y="1026.3" font-size="17.5" font-weight="bold" textLength="56.1" lengthAdjust="spacingAndGlyphs">X (&#956;m)</text>
<text transform="translate(433.0,935.2) rotate(-90)" font-size="18" font-weight="bold" textLength="56.8" lengthAdjust="spacingAndGlyphs">Y (&#956;m)</text>
<text x="426.9" y="838.5" font-size="24" text-anchor="start" font-weight="bold" font-style="normal" fill="#000" >h</text>
<rect x="632.8" y="863.50" width="14.8" height="8.46" fill="rgb(255,0,0)"/>
<rect x="632.8" y="871.66" width="14.8" height="8.46" fill="rgb(255,28,28)"/>
<rect x="632.8" y="879.82" width="14.8" height="8.46" fill="rgb(255,57,57)"/>
<rect x="632.8" y="887.98" width="14.8" height="8.46" fill="rgb(255,85,85)"/>
<rect x="632.8" y="896.14" width="14.8" height="8.46" fill="rgb(255,113,113)"/>
<rect x="632.8" y="904.30" width="14.8" height="8.46" fill="rgb(255,142,142)"/>
<rect x="632.8" y="912.46" width="14.8" height="8.46" fill="rgb(255,170,170)"/>
<rect x="632.8" y="920.62" width="14.8" height="8.46" fill="rgb(255,198,198)"/>
<rect x="632.8" y="928.78" width="14.8" height="8.46" fill="rgb(255,227,227)"/>
<rect x="632.8" y="936.94" width="14.8" height="8.46" fill="rgb(255,255,255)"/>
<rect x="632.8" y="945.10" width="14.8" height="8.46" fill="rgb(227,227,255)"/>
<rect x="632.8" y="953.26" width="14.8" height="8.46" fill="rgb(198,198,255)"/>
<rect x="632.8" y="961.42" width="14.8" height="8.46" fill="rgb(170,170,255)"/>
<rect x="632.8" y="969.58" width="14.8" height="8.46" fill="rgb(142,142,255)"/>
<rect x="632.8" y="977.74" width="14.8" height="8.46" fill="rgb(113,113,255)"/>
<rect x="632.8" y="985.90" width="14.8" height="8.46" fill="rgb(85,85,255)"/>
<rect x="632.8" y="994.06" width="14.8" height="8.46" fill="rgb(57,57,255)"/>
<rect x="632.8" y="1002.22" width="14.8" height="8.46" fill="rgb(28,28,255)"/>
<rect x="632.8" y="1010.38" width="14.8" height="8.46" fill="rgb(0,0,255)"/>
<rect x="632.8" y="863.5" width="14.8" height="155.0" fill="none" stroke="#888" stroke-width="0.8"/>
<line x1="647.6" y1="863.5" x2="650.9" y2="863.5" stroke="#888" stroke-width="0.8" />
<text x="663.2" y="873.1" font-size="16.2" text-anchor="start" font-weight="bold" font-style="normal" fill="#000" >1.0</text>
<line x1="647.6" y1="904.2" x2="650.9" y2="904.2" stroke="#888" stroke-width="0.8" />
<text x="663.2" y="913.8" font-size="16.2" text-anchor="start" font-weight="bold" font-style="normal" fill="#000" >0.5</text>
<line x1="647.6" y1="945.4" x2="650.9" y2="945.4" stroke="#888" stroke-width="0.8" />
<text x="663.2" y="955.0" font-size="16.2" text-anchor="start" font-weight="bold" font-style="normal" fill="#000" >0.0</text>
<line x1="647.6" y1="986.4" x2="650.9" y2="986.4" stroke="#888" stroke-width="0.8" />
<text x="658.5" y="996.0" font-size="16.2" text-anchor="start" font-weight="bold" font-style="normal" fill="#000" >-0.5</text>
<line x1="647.6" y1="1018.8" x2="650.9" y2="1018.8" stroke="#888" stroke-width="0.8" />
<text x="658.5" y="1028.4" font-size="16.2" text-anchor="start" font-weight="bold" font-style="normal" fill="#000" >-1.0</text>
<text x="636" y="823.3" font-size="13.5" font-weight="bold" font-style="italic" textLength="31.6" lengthAdjust="spacingAndGlyphs">ROA</text>
<line x1="621.1" y1="828.5" x2="681.3" y2="828.5" stroke="#000" stroke-width="1.9" />
<text x="620.8" y="844.7" font-size="13.5" font-weight="bold">|</text>
<text x="625.5" y="844.7" font-size="13.5" font-weight="bold" font-style="italic" textLength="32.8" lengthAdjust="spacingAndGlyphs">ROA</text>
<text x="658.5" y="847.8" font-size="9.5" font-weight="bold" textLength="19" lengthAdjust="spacingAndGlyphs">max</text>
<text x="678.3" y="844.7" font-size="13.5" font-weight="bold">|</text>
<text x="3.2" y="556.6" font-size="24" text-anchor="start" font-weight="bold" font-style="normal" fill="#000" >e</text>
<polygon points="37.3,680.4 171.3,620.5 330.4,660.5 224.4,757.5" fill="url(#topface)"/>
<polyline points="42,681 171.3,623.5 325,661" fill="none" stroke="#efefef" stroke-width="1.2"/>
<polygon points="37.3,680.4 224.4,757.5 224.4,780.5 40.2,701.5" fill="#a3a3a3"/>
<polygon points="38.8,697.5 116.1,720.5 116.1,733.5 40.2,701.5" fill="#4a4a4a"/>
<polygon points="116.1,712.2 224.4,757.5 224.4,780.5 116.1,733.5" fill="#f6f6f6"/>
<polygon points="116.1,712.2 224.4,757.5 224.4,760.5 116.1,722.5" fill="#d6d6d6"/>
<polygon points="116.1,731.5 224.4,778 224.4,780.5 116.1,733.5" fill="#cfcfcf"/>
<polygon points="224.4,757.5 330.4,660.5 330.4,675.2 268.2,719.8 268.2,736.7 224.4,768.3" fill="#dedede"/>
<polygon points="224.4,768.3 268.2,736.7 268.2,719.8 330.4,675.2 330.4,678.8 224.4,780.5" fill="#5c5c5c"/>
<polygon points="224.4,757.5 268.2,717.4 268.2,736.7 224.4,768.3" fill="#f0f0f0"/>
<polygon points="122.7,713.3 330.4,660.5 224.4,757.5" fill="url(#litface)"/>
<g transform="translate(225.6,635.5) rotate(-171.0)" opacity="0.92" filter="url(#soft)"><rect x="0" y="-5.2" width="50.5" height="10.5" fill="url(#cylR)"/><ellipse cx="50.5" cy="0" rx="3.4" ry="5.2" fill="url(#cylR)"/><ellipse cx="0" cy="0" rx="3.4" ry="5.2" fill="#a83838"/></g>
<g transform="translate(196.7,639.4) rotate(-168.4)" opacity="0.8" filter="url(#soft)"><rect x="0" y="-5.2" width="45.6" height="10.5" fill="url(#cylR)"/><ellipse cx="45.6" cy="0" rx="3.4" ry="5.2" fill="url(#cylR)"/><ellipse cx="0" cy="0" rx="3.4" ry="5.2" fill="#a83838"/></g>
<path d="M118.4,559.0 C117.7,560.2 115.5,563.4 114.0,566.3 C112.5,569.2 110.0,573.8 109.6,576.5 C109.2,579.2 110.3,581.0 111.8,582.3 C113.3,583.6 115.1,584.0 118.4,584.5 C121.7,585.0 128.6,584.7 131.5,585.3 C134.4,585.9 135.7,586.5 135.9,588.2 C136.2,589.9 134.3,592.8 133.0,595.5 C131.7,598.2 128.7,601.8 127.8,604.2 C126.9,606.6 126.9,608.6 127.8,610.1 C128.7,611.6 129.7,612.3 133.0,613.0 C136.3,613.7 144.3,613.8 147.6,614.5 C150.9,615.2 152.2,615.7 152.7,617.4 C153.2,619.1 151.6,622.0 150.5,624.7 C149.4,627.4 146.8,631.0 146.1,633.4 C145.4,635.8 145.2,637.9 146.1,639.3 C147.0,640.6 148.0,640.9 151.3,641.5 C154.6,642.1 162.9,642.1 166.0,642.8 C169.1,643.5 169.5,643.8 169.7,645.5 C169.9,647.2 168.2,650.4 167.0,653.0 C165.8,655.6 163.3,658.8 162.7,661.0 C162.1,663.2 162.8,665.3 163.5,666.5 C164.2,667.7 165.0,667.8 167.1,668.2 C169.2,668.6 174.5,668.7 176.0,668.8" fill="none" stroke="#ff9c9c" stroke-width="14" stroke-linecap="round" stroke-linejoin="round" opacity="0.7" filter="url(#glow)"/>
<path d="M127.8,556.8 C129.6,556.7 135.3,556.0 138.8,556.1 C142.3,556.2 146.7,556.5 149.0,557.5 C151.3,558.5 152.4,559.7 152.7,561.9 C152.9,564.1 151.8,567.8 150.5,570.7 C149.2,573.6 145.8,577.2 144.6,579.4 C143.4,581.6 142.5,582.6 143.2,583.8 C143.9,585.0 145.3,586.0 149.0,586.7 C152.7,587.4 161.7,587.2 165.1,588.2 C168.5,589.2 169.3,590.7 169.5,592.6 C169.7,594.5 167.8,597.2 166.5,599.9 C165.2,602.6 162.4,606.7 161.4,608.6 C160.4,610.5 159.8,610.5 160.7,611.5 C161.5,612.5 162.8,613.8 166.5,614.5 C170.2,615.2 179.2,614.7 182.6,615.9 C186.0,617.1 186.8,619.6 187.0,621.8 C187.2,624.0 185.3,626.7 184.0,629.1 C182.7,631.5 179.8,634.7 178.9,636.4 C178.0,638.1 177.6,638.6 178.5,639.5 C179.4,640.4 181.2,641.0 184.6,641.8 C188.0,642.5 196.0,643.1 199.0,644.0 C202.0,644.9 202.1,645.8 202.5,647.0 C202.9,648.2 201.7,650.3 201.5,651.0" fill="none" stroke="#86f3ff" stroke-width="14" stroke-linecap="round" stroke-linejoin="round" opacity="0.85" filter="url(#glow)"/>
<g transform="translate(107.1,665.5) rotate(-23.3)" opacity="0.95" filter="url(#soft)"><rect x="0" y="-5.8" width="48.9" height="11.5" fill="url(#cylR)"/><ellipse cx="48.9" cy="0" rx="3.7" ry="5.8" fill="url(#cylR)"/><ellipse cx="0" cy="0" rx="3.7" ry="5.8" fill="#b04444"/></g>
<g transform="translate(132.3,699.8) rotate(-109.8)" opacity="0.72" filter="url(#soft)"><rect x="0" y="-5.5" width="34.9" height="11.0" fill="url(#cylR)"/><ellipse cx="34.9" cy="0" rx="3.5" ry="5.5" fill="url(#cylR)"/><ellipse cx="0" cy="0" rx="3.5" ry="5.5" fill="#b04444"/></g>
<g transform="translate(144.2,663.0) rotate(-15.0)" opacity="0.95" filter="url(#soft)"><rect x="0" y="-5.5" width="55.7" height="11.0" fill="url(#cylR)"/><ellipse cx="55.7" cy="0" rx="3.5" ry="5.5" fill="url(#cylR)"/><ellipse cx="0" cy="0" rx="3.5" ry="5.5" fill="#b04444"/></g>
<g transform="translate(144.2,673.6) rotate(15.9)" opacity="0.95" filter="url(#soft)"><rect x="0" y="-6.2" width="57.3" height="12.5" fill="url(#cylR)"/><ellipse cx="57.3" cy="0" rx="4.0" ry="6.2" fill="url(#cylR)"/><ellipse cx="0" cy="0" rx="4.0" ry="6.2" fill="#b04444"/></g>
<path d="M118.4,559.0 C117.7,560.2 115.5,563.4 114.0,566.3 C112.5,569.2 110.0,573.8 109.6,576.5 C109.2,579.2 110.3,581.0 111.8,582.3 C113.3,583.6 115.1,584.0 118.4,584.5 C121.7,585.0 128.6,584.7 131.5,585.3 C134.4,585.9 135.7,586.5 135.9,588.2 C136.2,589.9 134.3,592.8 133.0,595.5 C131.7,598.2 128.7,601.8 127.8,604.2 C126.9,606.6 126.9,608.6 127.8,610.1 C128.7,611.6 129.7,612.3 133.0,613.0 C136.3,613.7 144.3,613.8 147.6,614.5 C150.9,615.2 152.2,615.7 152.7,617.4 C153.2,619.1 151.6,622.0 150.5,624.7 C149.4,627.4 146.8,631.0 146.1,633.4 C145.4,635.8 145.2,637.9 146.1,639.3 C147.0,640.6 148.0,640.9 151.3,641.5 C154.6,642.1 162.9,642.1 166.0,642.8 C169.1,643.5 169.5,643.8 169.7,645.5 C169.9,647.2 168.2,650.4 167.0,653.0 C165.8,655.6 163.3,658.8 162.7,661.0 C162.1,663.2 162.8,665.3 163.5,666.5 C164.2,667.7 165.0,667.8 167.1,668.2 C169.2,668.6 174.5,668.7 176.0,668.8" fill="none" stroke="#d0101a" stroke-width="1.8"/>
<path d="M127.8,556.8 C129.6,556.7 135.3,556.0 138.8,556.1 C142.3,556.2 146.7,556.5 149.0,557.5 C151.3,558.5 152.4,559.7 152.7,561.9 C152.9,564.1 151.8,567.8 150.5,570.7 C149.2,573.6 145.8,577.2 144.6,579.4 C143.4,581.6 142.5,582.6 143.2,583.8 C143.9,585.0 145.3,586.0 149.0,586.7 C152.7,587.4 161.7,587.2 165.1,588.2 C168.5,589.2 169.3,590.7 169.5,592.6 C169.7,594.5 167.8,597.2 166.5,599.9 C165.2,602.6 162.4,606.7 161.4,608.6 C160.4,610.5 159.8,610.5 160.7,611.5 C161.5,612.5 162.8,613.8 166.5,614.5 C170.2,615.2 179.2,614.7 182.6,615.9 C186.0,617.1 186.8,619.6 187.0,621.8 C187.2,624.0 185.3,626.7 184.0,629.1 C182.7,631.5 179.8,634.7 178.9,636.4 C178.0,638.1 177.6,638.6 178.5,639.5 C179.4,640.4 181.2,641.0 184.6,641.8 C188.0,642.5 196.0,643.1 199.0,644.0 C202.0,644.9 202.1,645.8 202.5,647.0 C202.9,648.2 201.7,650.3 201.5,651.0" fill="none" stroke="#1f5fd0" stroke-width="1.8"/>
<polygon points="183,668.5 173.5,662.5 174.5,674" fill="#a00000"/>
<polygon points="203,659 193.5,650 205.5,648" fill="#2a6ae0"/>
<defs><linearGradient id="nt" x1="0" y1="0" x2="0" y2="1"><stop offset="0" stop-color="#8a1616"/><stop offset="0.4" stop-color="#b83030"/><stop offset="1" stop-color="#7a1010"/></linearGradient></defs>
<polygon points="169.2,698.1 242.8,701.8 242.6,715.6 169.2,711" fill="url(#nt)"/>
<polyline points="173.8,704.7 179.7,699.9 186.3,701.2 190.9,706.0 196.1,700.5 202.7,702.1 207.3,707.1 212.6,701.8 219.1,703.1 223.7,708.4 229.0,703.1 235.5,704.2" fill="none" stroke="#e8a020" stroke-width="0.9"/>
<polyline points="173.8,709.7 179.1,704.5 185.6,705.8 190.2,711.0 196.1,705.1 202.0,706.8 206.6,712.1 212.6,706.4 218.5,708.1 223.1,713.4 228.3,707.7 235.5,709.4" fill="none" stroke="#e8a020" stroke-width="0.9"/>
<circle cx="173.8" cy="704.7" r="1.65" fill="#f2aa22"/>
<circle cx="179.7" cy="699.9" r="1.65" fill="#f2aa22"/>
<circle cx="186.3" cy="701.2" r="1.65" fill="#f2aa22"/>
<circle cx="190.9" cy="706.0" r="1.65" fill="#f2aa22"/>
<circle cx="196.1" cy="700.5" r="1.65" fill="#f2aa22"/>
<circle cx="202.7" cy="702.1" r="1.65" fill="#f2aa22"/>
<circle cx="207.3" cy="707.1" r="1.65" fill="#f2aa22"/>
<circle cx="212.6" cy="701.8" r="1.65" fill="#f2aa22"/>
<circle cx="219.1" cy="703.1" r="1.65" fill="#f2aa22"/>
<circle cx="223.7" cy="708.4" r="1.65" fill="#f2aa22"/>
<circle cx="229.0" cy="703.1" r="1.65" fill="#f2aa22"/>
<circle cx="235.5" cy="704.2" r="1.65" fill="#f2aa22"/>
<circle cx="173.8" cy="709.7" r="1.65" fill="#f2aa22"/>
<circle cx="179.1" cy="704.5" r="1.65" fill="#f2aa22"/>
<circle cx="185.6" cy="705.8" r="1.65" fill="#f2aa22"/>
<circle cx="190.2" cy="711.0" r="1.65" fill="#f2aa22"/>
<circle cx="196.1" cy="705.1" r="1.65" fill="#f2aa22"/>
<circle cx="202.0" cy="706.8" r="1.65" fill="#f2aa22"/>
<circle cx="206.6" cy="712.1" r="1.65" fill="#f2aa22"/>
<circle cx="212.6" cy="706.4" r="1.65" fill="#f2aa22"/>
<circle cx="218.5" cy="708.1" r="1.65" fill="#f2aa22"/>
<circle cx="223.1" cy="713.4" r="1.65" fill="#f2aa22"/>
<circle cx="228.3" cy="707.7" r="1.65" fill="#f2aa22"/>
<circle cx="235.5" cy="709.4" r="1.65" fill="#f2aa22"/>
<polygon points="121.8,714.3 250,633 300,607 360,582 372,596 375,617 290,655.2" fill="url(#beam)"/>
<g transform="translate(259.8,669.6) rotate(166.0)" opacity="0.93" filter="url(#soft)"><rect x="0" y="-6.0" width="59.6" height="12.0" fill="url(#cylR)"/><ellipse cx="59.6" cy="0" rx="3.8" ry="6.0" fill="url(#cylR)"/><ellipse cx="0" cy="0" rx="3.8" ry="6.0" fill="#b04444"/></g>
<g transform="translate(209.8,669.6) rotate(-59.4)" opacity="0.92" filter="url(#soft)"><rect x="0" y="-5.2" width="25.9" height="10.5" fill="url(#cylY)"/><ellipse cx="25.9" cy="0" rx="3.4" ry="5.2" fill="url(#cylY)"/><ellipse cx="0" cy="0" rx="3.4" ry="5.2" fill="#e2b880"/></g>
<g transform="translate(234.8,664.4) rotate(-29.3)" opacity="0.92" filter="url(#soft)"><rect x="0" y="-5.2" width="37.6" height="10.5" fill="url(#cylY)"/><ellipse cx="37.6" cy="0" rx="3.4" ry="5.2" fill="url(#cylY)"/><ellipse cx="0" cy="0" rx="3.4" ry="5.2" fill="#e2b880"/></g>
<line x1="94.7" y1="741.4" x2="45.2" y2="719.7" stroke="#000" stroke-width="2.2" />
<polygon points="38.8,716.9 46.4,717.0 44.0,722.4" fill="#000"/>
<line x1="121.5" y1="753.6" x2="203.1" y2="788.7" stroke="#000" stroke-width="2.2" />
<polygon points="209.5,791.5 201.9,791.4 204.2,786.0" fill="#000"/>
<text x="107.5" y="752.8" font-size="20" text-anchor="middle" font-weight="bold" font-style="normal" fill="#000" >x</text>
<line x1="285.3" y1="737.4" x2="238.3" y2="780.7" stroke="#000" stroke-width="2.2" />
<polygon points="233.2,785.4 236.4,778.5 240.3,782.8" fill="#000"/>
<line x1="308.0" y1="715.5" x2="335.3" y2="690.8" stroke="#000" stroke-width="2.2" />
<polygon points="340.5,686.1 337.3,693.0 333.3,688.6" fill="#000"/>
<text x="297.9" y="732.5" font-size="20" text-anchor="middle" font-weight="bold" font-style="normal" fill="#000" >y</text>
<text transform="translate(87,572.3) rotate(-33)" font-size="14" font-weight="bold" textLength="33" lengthAdjust="spacingAndGlyphs">RCP</text>
<text transform="translate(127.5,554.5) rotate(-35)" font-size="14" font-weight="bold" textLength="31" lengthAdjust="spacingAndGlyphs">LCP</text>
<text x="345.0" y="603.2" font-size="15" text-anchor="start" font-weight="bold" font-style="normal" fill="#000" >2D</text>
<text x="345.0" y="622.2" font-size="15" text-anchor="start" font-weight="bold" font-style="normal" fill="#000" textLength="33.6" lengthAdjust="spacingAndGlyphs" >ROA</text>
<polygon points="467.3,554.2 476.9,555.6 468.8,560.7 459.2,559.4" fill="rgb(255,166,166)" stroke="rgb(255,166,166)" stroke-width="0.4"/>
<polygon points="476.9,555.6 486.4,556.9 478.4,562.1 468.8,560.7" fill="rgb(255,255,255)" stroke="rgb(255,255,255)" stroke-width="0.4"/>
<polygon points="486.4,556.9 496.0,558.3 487.9,563.4 478.4,562.1" fill="rgb(255,191,191)" stroke="rgb(255,191,191)" stroke-width="0.4"/>
<polygon points="496.0,558.3 505.6,559.6 497.5,564.8 487.9,563.4" fill="rgb(255,230,230)" stroke="rgb(255,230,230)" stroke-width="0.4"/>
<polygon points="505.6,559.7 515.2,561.0 507.1,566.2 497.5,564.8" fill="rgb(255,242,242)" stroke="rgb(255,242,242)" stroke-width="0.4"/>
<polygon points="515.2,561.0 524.8,562.4 516.7,567.5 507.1,566.2" fill="rgb(255,191,191)" stroke="rgb(255,191,191)" stroke-width="0.4"/>
<polygon points="524.8,562.4 534.3,563.7 526.2,568.9 516.7,567.5" fill="rgb(255,204,204)" stroke="rgb(255,204,204)" stroke-width="0.4"/>
<polygon points="534.3,563.7 543.9,565.1 535.8,570.2 526.2,568.9" fill="rgb(255,230,230)" stroke="rgb(255,230,230)" stroke-width="0.4"/>
<polygon points="459.2,559.4 468.8,560.7 460.7,565.9 451.2,564.5" fill="rgb(255,230,230)" stroke="rgb(255,230,230)" stroke-width="0.4"/>
<polygon points="468.8,560.7 478.4,562.1 470.3,567.2 460.7,565.9" fill="rgb(255,102,102)" stroke="rgb(255,102,102)" stroke-width="0.4"/>
<polygon points="478.4,562.1 487.9,563.4 479.9,568.6 470.3,567.2" fill="rgb(255,115,115)" stroke="rgb(255,115,115)" stroke-width="0.4"/>
<polygon points="487.9,563.4 497.5,564.8 489.4,569.9 479.9,568.6" fill="rgb(255,191,191)" stroke="rgb(255,191,191)" stroke-width="0.4"/>
<polygon points="497.5,564.8 507.1,566.2 499.0,571.3 489.5,570.0" fill="rgb(255,204,204)" stroke="rgb(255,204,204)" stroke-width="0.4"/>
<polygon points="507.1,566.2 516.7,567.5 508.6,572.7 499.0,571.3" fill="rgb(255,166,166)" stroke="rgb(255,166,166)" stroke-width="0.4"/>
<polygon points="516.7,567.5 526.2,568.9 518.2,574.0 508.6,572.7" fill="rgb(255,217,217)" stroke="rgb(255,217,217)" stroke-width="0.4"/>
<polygon points="526.2,568.9 535.8,570.2 527.8,575.4 518.2,574.0" fill="rgb(255,242,242)" stroke="rgb(255,242,242)" stroke-width="0.4"/>
<polygon points="451.1,564.5 460.7,565.9 452.6,571.0 443.1,569.6" fill="rgb(255,204,204)" stroke="rgb(255,204,204)" stroke-width="0.4"/>
<polygon points="460.7,565.9 470.3,567.2 462.2,572.4 452.7,571.0" fill="rgb(255,38,38)" stroke="rgb(255,38,38)" stroke-width="0.4"/>
<polygon points="470.3,567.2 479.9,568.6 471.8,573.7 462.2,572.4" fill="rgb(255,89,89)" stroke="rgb(255,89,89)" stroke-width="0.4"/>
<polygon points="479.9,568.6 489.4,569.9 481.4,575.1 471.8,573.7" fill="rgb(255,191,191)" stroke="rgb(255,191,191)" stroke-width="0.4"/>
<polygon points="489.5,570.0 499.0,571.3 491.0,576.5 481.4,575.1" fill="rgb(255,166,166)" stroke="rgb(255,166,166)" stroke-width="0.4"/>
<polygon points="499.0,571.3 508.6,572.7 500.5,577.8 490.9,576.5" fill="rgb(255,153,153)" stroke="rgb(255,153,153)" stroke-width="0.4"/>
<polygon points="508.6,572.7 518.2,574.0 510.1,579.2 500.5,577.8" fill="rgb(255,178,178)" stroke="rgb(255,178,178)" stroke-width="0.4"/>
<polygon points="518.2,574.0 527.8,575.4 519.7,580.5 510.1,579.2" fill="rgb(255,242,242)" stroke="rgb(255,242,242)" stroke-width="0.4"/>
<polygon points="443.1,569.6 452.6,571.0 444.6,576.2 435.0,574.8" fill="rgb(255,178,178)" stroke="rgb(255,178,178)" stroke-width="0.4"/>
<polygon points="452.6,571.0 462.2,572.4 454.1,577.5 444.6,576.2" fill="rgb(255,102,102)" stroke="rgb(255,102,102)" stroke-width="0.4"/>
<polygon points="462.2,572.4 471.8,573.7 463.7,578.9 454.1,577.5" fill="rgb(255,102,102)" stroke="rgb(255,102,102)" stroke-width="0.4"/>
<polygon points="471.8,573.7 481.4,575.1 473.3,580.2 463.7,578.9" fill="rgb(255,25,25)" stroke="rgb(255,25,25)" stroke-width="0.4"/>
<polygon points="481.4,575.1 490.9,576.5 482.9,581.6 473.3,580.2" fill="rgb(255,115,115)" stroke="rgb(255,115,115)" stroke-width="0.4"/>
<polygon points="490.9,576.5 500.5,577.8 492.4,583.0 482.9,581.6" fill="rgb(255,166,166)" stroke="rgb(255,166,166)" stroke-width="0.4"/>
<polygon points="500.5,577.8 510.1,579.2 502.0,584.3 492.4,583.0" fill="rgb(255,204,204)" stroke="rgb(255,204,204)" stroke-width="0.4"/>
<polygon points="510.1,579.2 519.7,580.5 511.6,585.7 502.0,584.3" fill="rgb(255,242,242)" stroke="rgb(255,242,242)" stroke-width="0.4"/>
<polygon points="435.0,574.8 444.6,576.2 436.5,581.3 426.9,579.9" fill="rgb(255,217,217)" stroke="rgb(255,217,217)" stroke-width="0.4"/>
<polygon points="444.6,576.2 454.1,577.5 446.1,582.7 436.5,581.3" fill="rgb(255,166,166)" stroke="rgb(255,166,166)" stroke-width="0.4"/>
<polygon points="454.1,577.5 463.7,578.9 455.6,584.0 446.1,582.7" fill="rgb(255,153,153)" stroke="rgb(255,153,153)" stroke-width="0.4"/>
<polygon points="463.7,578.9 473.3,580.2 465.2,585.4 455.6,584.0" fill="rgb(255,102,102)" stroke="rgb(255,102,102)" stroke-width="0.4"/>
<polygon points="473.3,580.2 482.9,581.6 474.8,586.8 465.2,585.4" fill="rgb(255,128,128)" stroke="rgb(255,128,128)" stroke-width="0.4"/>
<polygon points="482.9,581.6 492.4,583.0 484.4,588.1 474.8,586.8" fill="rgb(255,115,115)" stroke="rgb(255,115,115)" stroke-width="0.4"/>
<polygon points="492.4,583.0 502.0,584.3 493.9,589.5 484.4,588.1" fill="rgb(255,191,191)" stroke="rgb(255,191,191)" stroke-width="0.4"/>
<polygon points="502.0,584.3 511.6,585.7 503.5,590.9 494.0,589.5" fill="rgb(255,242,242)" stroke="rgb(255,242,242)" stroke-width="0.4"/>
<polygon points="426.9,580.0 436.5,581.3 428.4,586.5 418.9,585.1" fill="rgb(255,247,247)" stroke="rgb(255,247,247)" stroke-width="0.4"/>
<polygon points="436.5,581.3 446.1,582.7 438.0,587.8 428.4,586.5" fill="rgb(255,166,166)" stroke="rgb(255,166,166)" stroke-width="0.4"/>
<polygon points="446.1,582.7 455.6,584.0 447.6,589.2 438.0,587.8" fill="rgb(255,166,166)" stroke="rgb(255,166,166)" stroke-width="0.4"/>
<polygon points="455.6,584.0 465.2,585.4 457.1,590.5 447.6,589.2" fill="rgb(255,102,102)" stroke="rgb(255,102,102)" stroke-width="0.4"/>
<polygon points="465.2,585.4 474.8,586.8 466.7,591.9 457.2,590.6" fill="rgb(255,140,140)" stroke="rgb(255,140,140)" stroke-width="0.4"/>
<polygon points="474.8,586.8 484.4,588.1 476.3,593.3 466.7,591.9" fill="rgb(255,128,128)" stroke="rgb(255,128,128)" stroke-width="0.4"/>
<polygon points="484.4,588.1 493.9,589.5 485.9,594.6 476.3,593.3" fill="rgb(255,166,166)" stroke="rgb(255,166,166)" stroke-width="0.4"/>
<polygon points="494.0,589.5 503.5,590.9 495.5,596.0 485.9,594.6" fill="rgb(255,217,217)" stroke="rgb(255,217,217)" stroke-width="0.4"/>
<polygon points="418.9,585.1 428.4,586.5 420.4,591.6 410.8,590.2" fill="rgb(255,230,230)" stroke="rgb(255,230,230)" stroke-width="0.4"/>
<polygon points="428.4,586.5 438.0,587.8 429.9,593.0 420.3,591.6" fill="rgb(255,178,178)" stroke="rgb(255,178,178)" stroke-width="0.4"/>
<polygon points="438.0,587.8 447.6,589.2 439.5,594.3 429.9,593.0" fill="rgb(255,153,153)" stroke="rgb(255,153,153)" stroke-width="0.4"/>
<polygon points="447.6,589.2 457.1,590.5 449.1,595.7 439.5,594.3" fill="rgb(255,153,153)" stroke="rgb(255,153,153)" stroke-width="0.4"/>
<polygon points="457.1,590.6 466.7,591.9 458.6,597.1 449.1,595.7" fill="rgb(255,25,25)" stroke="rgb(255,25,25)" stroke-width="0.4"/>
<polygon points="466.7,591.9 476.3,593.3 468.2,598.4 458.6,597.1" fill="rgb(255,115,115)" stroke="rgb(255,115,115)" stroke-width="0.4"/>
<polygon points="476.3,593.3 485.9,594.6 477.8,599.8 468.2,598.4" fill="rgb(255,178,178)" stroke="rgb(255,178,178)" stroke-width="0.4"/>
<polygon points="485.9,594.6 495.4,596.0 487.4,601.1 477.8,599.8" fill="rgb(255,242,242)" stroke="rgb(255,242,242)" stroke-width="0.4"/>
<polygon points="410.8,590.2 420.3,591.6 412.3,596.8 402.7,595.4" fill="rgb(255,178,178)" stroke="rgb(255,178,178)" stroke-width="0.4"/>
<polygon points="420.3,591.6 429.9,593.0 421.8,598.1 412.3,596.8" fill="rgb(255,247,247)" stroke="rgb(255,247,247)" stroke-width="0.4"/>
<polygon points="429.9,593.0 439.5,594.3 431.4,599.5 421.8,598.1" fill="rgb(255,115,115)" stroke="rgb(255,115,115)" stroke-width="0.4"/>
<polygon points="439.5,594.3 449.1,595.7 441.0,600.8 431.4,599.5" fill="rgb(255,242,242)" stroke="rgb(255,242,242)" stroke-width="0.4"/>
<polygon points="449.1,595.7 458.6,597.1 450.6,602.2 441.0,600.9" fill="rgb(255,242,242)" stroke="rgb(255,242,242)" stroke-width="0.4"/>
<polygon points="458.6,597.1 468.2,598.4 460.1,603.6 450.6,602.2" fill="rgb(255,217,217)" stroke="rgb(255,217,217)" stroke-width="0.4"/>
<polygon points="468.2,598.4 477.8,599.8 469.7,604.9 460.1,603.6" fill="rgb(255,242,242)" stroke="rgb(255,242,242)" stroke-width="0.4"/>
<polygon points="477.8,599.8 487.4,601.1 479.3,606.3 469.7,604.9" fill="rgb(255,178,178)" stroke="rgb(255,178,178)" stroke-width="0.4"/>
<polygon points="467.3,554.2 543.9,565.1 479.3,606.3 402.7,595.4" fill="none" stroke="#777" stroke-width="0.7"/>
<polygon points="465.1,637.8 475.0,639.3 467.0,644.6 457.2,643.1" fill="rgb(130,140,242)" stroke="rgb(130,140,242)" stroke-width="0.4"/>
<polygon points="475.0,639.3 484.8,640.7 476.9,646.0 467.0,644.6" fill="rgb(255,255,255)" stroke="rgb(255,255,255)" stroke-width="0.4"/>
<polygon points="484.8,640.7 494.7,642.2 486.7,647.5 476.9,646.0" fill="rgb(255,255,255)" stroke="rgb(255,255,255)" stroke-width="0.4"/>
<polygon points="494.7,642.2 504.6,643.6 496.6,649.0 486.7,647.5" fill="rgb(205,209,250)" stroke="rgb(205,209,250)" stroke-width="0.4"/>
<polygon points="504.6,643.6 514.4,645.1 506.5,650.4 496.6,649.0" fill="rgb(230,232,252)" stroke="rgb(230,232,252)" stroke-width="0.4"/>
<polygon points="514.4,645.1 524.3,646.6 516.3,651.9 506.5,650.4" fill="rgb(255,255,255)" stroke="rgb(255,255,255)" stroke-width="0.4"/>
<polygon points="524.3,646.6 534.1,648.0 526.2,653.4 516.3,651.9" fill="rgb(205,209,250)" stroke="rgb(205,209,250)" stroke-width="0.4"/>
<polygon points="534.1,648.0 544.0,649.5 536.0,654.8 526.2,653.4" fill="rgb(255,255,255)" stroke="rgb(255,255,255)" stroke-width="0.4"/>
<polygon points="457.2,643.1 467.0,644.6 459.1,649.9 449.2,648.5" fill="rgb(242,243,253)" stroke="rgb(242,243,253)" stroke-width="0.4"/>
<polygon points="467.0,644.6 476.9,646.0 468.9,651.4 459.1,649.9" fill="rgb(105,117,240)" stroke="rgb(105,117,240)" stroke-width="0.4"/>
<polygon points="476.9,646.0 486.7,647.5 478.8,652.8 468.9,651.4" fill="rgb(105,117,240)" stroke="rgb(105,117,240)" stroke-width="0.4"/>
<polygon points="486.7,647.5 496.6,649.0 488.7,654.3 478.8,652.8" fill="rgb(142,151,243)" stroke="rgb(142,151,243)" stroke-width="0.4"/>
<polygon points="496.6,649.0 506.5,650.4 498.5,655.8 488.7,654.3" fill="rgb(180,186,247)" stroke="rgb(180,186,247)" stroke-width="0.4"/>
<polygon points="506.5,650.4 516.3,651.9 508.4,657.2 498.5,655.8" fill="rgb(230,232,252)" stroke="rgb(230,232,252)" stroke-width="0.4"/>
<polygon points="516.3,651.9 526.2,653.4 518.2,658.7 508.4,657.2" fill="rgb(242,243,253)" stroke="rgb(242,243,253)" stroke-width="0.4"/>
<polygon points="526.2,653.4 536.0,654.8 528.1,660.2 518.2,658.7" fill="rgb(255,255,255)" stroke="rgb(255,255,255)" stroke-width="0.4"/>
<polygon points="449.2,648.4 459.1,649.9 451.1,655.2 441.3,653.8" fill="rgb(142,151,243)" stroke="rgb(142,151,243)" stroke-width="0.4"/>
<polygon points="459.1,649.9 468.9,651.4 461.0,656.7 451.1,655.2" fill="rgb(117,128,241)" stroke="rgb(117,128,241)" stroke-width="0.4"/>
<polygon points="468.9,651.4 478.8,652.8 470.8,658.2 461.0,656.7" fill="rgb(105,117,240)" stroke="rgb(105,117,240)" stroke-width="0.4"/>
<polygon points="478.8,652.8 488.7,654.3 480.7,659.6 470.8,658.2" fill="rgb(117,128,241)" stroke="rgb(117,128,241)" stroke-width="0.4"/>
<polygon points="488.6,654.3 498.5,655.8 490.6,661.1 480.7,659.6" fill="rgb(105,117,240)" stroke="rgb(105,117,240)" stroke-width="0.4"/>
<polygon points="498.5,655.8 508.4,657.2 500.4,662.5 490.6,661.1" fill="rgb(180,186,247)" stroke="rgb(180,186,247)" stroke-width="0.4"/>
<polygon points="508.4,657.2 518.2,658.7 510.3,664.0 500.4,662.6" fill="rgb(167,174,246)" stroke="rgb(167,174,246)" stroke-width="0.4"/>
<polygon points="518.2,658.7 528.1,660.1 520.1,665.5 510.3,664.0" fill="rgb(205,209,250)" stroke="rgb(205,209,250)" stroke-width="0.4"/>
<polygon points="441.2,653.8 451.1,655.2 443.2,660.6 433.3,659.1" fill="rgb(180,186,247)" stroke="rgb(180,186,247)" stroke-width="0.4"/>
<polygon points="451.1,655.2 461.0,656.7 453.0,662.0 443.2,660.6" fill="rgb(130,140,242)" stroke="rgb(130,140,242)" stroke-width="0.4"/>
<polygon points="461.0,656.7 470.8,658.2 462.9,663.5 453.0,662.0" fill="rgb(105,117,240)" stroke="rgb(105,117,240)" stroke-width="0.4"/>
<polygon points="470.8,658.2 480.7,659.6 472.8,665.0 462.9,663.5" fill="rgb(92,105,238)" stroke="rgb(92,105,238)" stroke-width="0.4"/>
<polygon points="480.7,659.6 490.6,661.1 482.6,666.4 472.8,665.0" fill="rgb(130,140,242)" stroke="rgb(130,140,242)" stroke-width="0.4"/>
<polygon points="490.6,661.1 500.4,662.5 492.5,667.9 482.6,666.4" fill="rgb(142,151,243)" stroke="rgb(142,151,243)" stroke-width="0.4"/>
<polygon points="500.4,662.6 510.3,664.0 502.3,669.3 492.5,667.9" fill="rgb(130,140,242)" stroke="rgb(130,140,242)" stroke-width="0.4"/>
<polygon points="510.3,664.0 520.1,665.5 512.2,670.8 502.3,669.3" fill="rgb(205,209,250)" stroke="rgb(205,209,250)" stroke-width="0.4"/>
<polygon points="433.3,659.1 443.2,660.6 435.2,665.9 425.4,664.4" fill="rgb(155,163,245)" stroke="rgb(155,163,245)" stroke-width="0.4"/>
<polygon points="443.2,660.6 453.0,662.0 445.1,667.4 435.2,665.9" fill="rgb(130,140,242)" stroke="rgb(130,140,242)" stroke-width="0.4"/>
<polygon points="453.0,662.0 462.9,663.5 454.9,668.8 445.1,667.3" fill="rgb(117,128,241)" stroke="rgb(117,128,241)" stroke-width="0.4"/>
<polygon points="462.9,663.5 472.8,664.9 464.8,670.3 454.9,668.8" fill="rgb(117,128,241)" stroke="rgb(117,128,241)" stroke-width="0.4"/>
<polygon points="472.8,665.0 482.6,666.4 474.7,671.7 464.8,670.3" fill="rgb(130,140,242)" stroke="rgb(130,140,242)" stroke-width="0.4"/>
<polygon points="482.6,666.4 492.5,667.9 484.5,673.2 474.7,671.7" fill="rgb(155,163,245)" stroke="rgb(155,163,245)" stroke-width="0.4"/>
<polygon points="492.5,667.9 502.3,669.3 494.4,674.7 484.5,673.2" fill="rgb(205,209,250)" stroke="rgb(205,209,250)" stroke-width="0.4"/>
<polygon points="502.3,669.3 512.2,670.8 504.3,676.1 494.4,674.7" fill="rgb(155,163,245)" stroke="rgb(155,163,245)" stroke-width="0.4"/>
<polygon points="425.4,664.4 435.2,665.9 427.3,671.2 417.4,669.8" fill="rgb(205,209,250)" stroke="rgb(205,209,250)" stroke-width="0.4"/>
<polygon points="435.2,665.9 445.1,667.3 437.1,672.7 427.3,671.2" fill="rgb(130,140,242)" stroke="rgb(130,140,242)" stroke-width="0.4"/>
<polygon points="445.1,667.3 454.9,668.8 447.0,674.1 437.1,672.7" fill="rgb(105,117,240)" stroke="rgb(105,117,240)" stroke-width="0.4"/>
<polygon points="454.9,668.8 464.8,670.3 456.9,675.6 447.0,674.1" fill="rgb(130,140,242)" stroke="rgb(130,140,242)" stroke-width="0.4"/>
<polygon points="464.8,670.3 474.7,671.7 466.7,677.1 456.9,675.6" fill="rgb(142,151,243)" stroke="rgb(142,151,243)" stroke-width="0.4"/>
<polygon points="474.7,671.7 484.5,673.2 476.6,678.5 466.7,677.1" fill="rgb(130,140,242)" stroke="rgb(130,140,242)" stroke-width="0.4"/>
<polygon points="484.5,673.2 494.4,674.7 486.4,680.0 476.6,678.5" fill="rgb(92,105,238)" stroke="rgb(92,105,238)" stroke-width="0.4"/>
<polygon points="494.4,674.7 504.3,676.1 496.3,681.5 486.4,680.0" fill="rgb(242,243,253)" stroke="rgb(242,243,253)" stroke-width="0.4"/>
<polygon points="417.4,669.8 427.3,671.2 419.3,676.5 409.4,675.1" fill="rgb(192,197,248)" stroke="rgb(192,197,248)" stroke-width="0.4"/>
<polygon points="427.3,671.2 437.1,672.7 429.2,678.0 419.3,676.5" fill="rgb(180,186,247)" stroke="rgb(180,186,247)" stroke-width="0.4"/>
<polygon points="437.1,672.7 447.0,674.1 439.0,679.5 429.2,678.0" fill="rgb(92,105,238)" stroke="rgb(92,105,238)" stroke-width="0.4"/>
<polygon points="447.0,674.1 456.8,675.6 448.9,680.9 439.0,679.5" fill="rgb(117,128,241)" stroke="rgb(117,128,241)" stroke-width="0.4"/>
<polygon points="456.9,675.6 466.7,677.1 458.8,682.4 448.9,680.9" fill="rgb(105,117,240)" stroke="rgb(105,117,240)" stroke-width="0.4"/>
<polygon points="466.7,677.1 476.6,678.5 468.6,683.9 458.8,682.4" fill="rgb(192,197,248)" stroke="rgb(192,197,248)" stroke-width="0.4"/>
<polygon points="476.6,678.5 486.4,680.0 478.5,685.3 468.6,683.9" fill="rgb(217,220,251)" stroke="rgb(217,220,251)" stroke-width="0.4"/>
<polygon points="486.4,680.0 496.3,681.5 488.4,686.8 478.5,685.3" fill="rgb(255,255,255)" stroke="rgb(255,255,255)" stroke-width="0.4"/>
<polygon points="409.4,675.1 419.3,676.5 411.4,681.9 401.5,680.4" fill="rgb(180,186,247)" stroke="rgb(180,186,247)" stroke-width="0.4"/>
<polygon points="419.3,676.5 429.2,678.0 421.2,683.3 411.4,681.9" fill="rgb(255,255,255)" stroke="rgb(255,255,255)" stroke-width="0.4"/>
<polygon points="429.2,678.0 439.0,679.5 431.1,684.8 421.2,683.3" fill="rgb(255,255,255)" stroke="rgb(255,255,255)" stroke-width="0.4"/>
<polygon points="439.0,679.5 448.9,680.9 440.9,686.2 431.1,684.8" fill="rgb(255,255,255)" stroke="rgb(255,255,255)" stroke-width="0.4"/>
<polygon points="448.9,680.9 458.8,682.4 450.8,687.7 440.9,686.2" fill="rgb(192,197,248)" stroke="rgb(192,197,248)" stroke-width="0.4"/>
<polygon points="458.8,682.4 468.6,683.8 460.7,689.2 450.8,687.7" fill="rgb(242,243,253)" stroke="rgb(242,243,253)" stroke-width="0.4"/>
<polygon points="468.6,683.9 478.5,685.3 470.5,690.6 460.7,689.2" fill="rgb(205,209,250)" stroke="rgb(205,209,250)" stroke-width="0.4"/>
<polygon points="478.5,685.3 488.4,686.8 480.4,692.1 470.5,690.6" fill="rgb(217,220,251)" stroke="rgb(217,220,251)" stroke-width="0.4"/>
<polygon points="465.1,637.8 544.0,649.5 480.4,692.1 401.5,680.4" fill="none" stroke="#777" stroke-width="0.7"/>
<polygon points="465.1,729.9 474.7,731.3 466.8,736.5 457.2,735.1" fill="rgb(255,153,153)" stroke="rgb(255,153,153)" stroke-width="0.4"/>
<polygon points="474.7,731.3 484.4,732.7 476.4,737.9 466.8,736.5" fill="rgb(255,255,255)" stroke="rgb(255,255,255)" stroke-width="0.4"/>
<polygon points="484.4,732.7 494.0,734.1 486.1,739.3 476.4,737.9" fill="rgb(255,204,204)" stroke="rgb(255,204,204)" stroke-width="0.4"/>
<polygon points="494.0,734.1 503.7,735.5 495.7,740.7 486.1,739.3" fill="rgb(215,217,252)" stroke="rgb(215,217,252)" stroke-width="0.4"/>
<polygon points="503.7,735.5 513.3,736.9 505.3,742.1 495.7,740.7" fill="rgb(255,255,255)" stroke="rgb(255,255,255)" stroke-width="0.4"/>
<polygon points="513.3,736.9 522.9,738.3 515.0,743.5 505.3,742.1" fill="rgb(255,255,255)" stroke="rgb(255,255,255)" stroke-width="0.4"/>
<polygon points="522.9,738.3 532.6,739.7 524.6,744.9 515.0,743.5" fill="rgb(255,191,191)" stroke="rgb(255,191,191)" stroke-width="0.4"/>
<polygon points="532.6,739.7 542.2,741.1 534.2,746.3 524.6,744.9" fill="rgb(255,255,255)" stroke="rgb(255,255,255)" stroke-width="0.4"/>
<polygon points="457.2,735.1 466.8,736.5 458.8,741.7 449.2,740.3" fill="rgb(255,242,242)" stroke="rgb(255,242,242)" stroke-width="0.4"/>
<polygon points="466.8,736.5 476.4,737.9 468.5,743.1 458.8,741.7" fill="rgb(255,115,115)" stroke="rgb(255,115,115)" stroke-width="0.4"/>
<polygon points="476.4,737.9 486.1,739.3 478.1,744.5 468.5,743.1" fill="rgb(255,128,128)" stroke="rgb(255,128,128)" stroke-width="0.4"/>
<polygon points="486.1,739.3 495.7,740.7 487.8,745.9 478.1,744.5" fill="rgb(255,217,217)" stroke="rgb(255,217,217)" stroke-width="0.4"/>
<polygon points="495.7,740.7 505.3,742.1 497.4,747.3 487.8,745.9" fill="rgb(255,204,204)" stroke="rgb(255,204,204)" stroke-width="0.4"/>
<polygon points="505.3,742.1 515.0,743.5 507.0,748.7 497.4,747.3" fill="rgb(255,178,178)" stroke="rgb(255,178,178)" stroke-width="0.4"/>
<polygon points="515.0,743.5 524.6,744.9 516.7,750.1 507.0,748.7" fill="rgb(185,188,249)" stroke="rgb(185,188,249)" stroke-width="0.4"/>
<polygon points="524.6,744.9 534.2,746.3 526.3,751.5 516.7,750.1" fill="rgb(255,255,255)" stroke="rgb(255,255,255)" stroke-width="0.4"/>
<polygon points="449.2,740.3 458.8,741.7 450.9,746.9 441.3,745.5" fill="rgb(255,191,191)" stroke="rgb(255,191,191)" stroke-width="0.4"/>
<polygon points="458.8,741.7 468.5,743.1 460.5,748.3 450.9,746.9" fill="rgb(195,198,250)" stroke="rgb(195,198,250)" stroke-width="0.4"/>
<polygon points="468.5,743.1 478.1,744.5 470.2,749.7 460.5,748.3" fill="rgb(255,128,128)" stroke="rgb(255,128,128)" stroke-width="0.4"/>
<polygon points="478.1,744.5 487.8,745.9 479.8,751.1 470.2,749.7" fill="rgb(255,178,178)" stroke="rgb(255,178,178)" stroke-width="0.4"/>
<polygon points="487.8,745.9 497.4,747.3 489.4,752.5 479.8,751.1" fill="rgb(255,178,178)" stroke="rgb(255,178,178)" stroke-width="0.4"/>
<polygon points="497.4,747.3 507.0,748.7 499.1,753.9 489.4,752.5" fill="rgb(255,153,153)" stroke="rgb(255,153,153)" stroke-width="0.4"/>
<polygon points="507.0,748.7 516.7,750.1 508.7,755.3 499.1,753.9" fill="rgb(255,230,230)" stroke="rgb(255,230,230)" stroke-width="0.4"/>
<polygon points="516.7,750.1 526.3,751.5 518.4,756.7 508.7,755.3" fill="rgb(235,236,253)" stroke="rgb(235,236,253)" stroke-width="0.4"/>
<polygon points="441.2,745.5 450.9,746.9 442.9,752.0 433.3,750.6" fill="rgb(255,217,217)" stroke="rgb(255,217,217)" stroke-width="0.4"/>
<polygon points="450.9,746.9 460.5,748.3 452.6,753.4 442.9,752.0" fill="rgb(255,128,128)" stroke="rgb(255,128,128)" stroke-width="0.4"/>
<polygon points="460.5,748.3 470.2,749.7 462.2,754.9 452.6,753.5" fill="rgb(255,140,140)" stroke="rgb(255,140,140)" stroke-width="0.4"/>
<polygon points="470.2,749.7 479.8,751.1 471.9,756.2 462.2,754.9" fill="rgb(215,217,252)" stroke="rgb(215,217,252)" stroke-width="0.4"/>
<polygon points="479.8,751.1 489.4,752.5 481.5,757.6 471.9,756.2" fill="rgb(255,140,140)" stroke="rgb(255,140,140)" stroke-width="0.4"/>
<polygon points="489.4,752.5 499.1,753.9 491.1,759.0 481.5,757.6" fill="rgb(195,198,250)" stroke="rgb(195,198,250)" stroke-width="0.4"/>
<polygon points="499.1,753.9 508.7,755.3 500.8,760.4 491.1,759.0" fill="rgb(255,191,191)" stroke="rgb(255,191,191)" stroke-width="0.4"/>
<polygon points="508.7,755.3 518.4,756.7 510.4,761.9 500.8,760.5" fill="rgb(255,255,255)" stroke="rgb(255,255,255)" stroke-width="0.4"/>
<polygon points="433.3,750.6 442.9,752.0 435.0,757.2 425.4,755.8" fill="rgb(255,230,230)" stroke="rgb(255,230,230)" stroke-width="0.4"/>
<polygon points="442.9,752.0 452.6,753.4 444.6,758.6 435.0,757.2" fill="rgb(255,140,140)" stroke="rgb(255,140,140)" stroke-width="0.4"/>
<polygon points="452.6,753.5 462.2,754.9 454.3,760.0 444.6,758.6" fill="rgb(255,102,102)" stroke="rgb(255,102,102)" stroke-width="0.4"/>
<polygon points="462.2,754.9 471.9,756.2 463.9,761.4 454.3,760.0" fill="rgb(185,188,249)" stroke="rgb(185,188,249)" stroke-width="0.4"/>
<polygon points="471.9,756.2 481.5,757.6 473.5,762.8 463.9,761.4" fill="rgb(195,198,250)" stroke="rgb(195,198,250)" stroke-width="0.4"/>
<polygon points="481.5,757.6 491.1,759.0 483.2,764.2 473.5,762.8" fill="rgb(255,153,153)" stroke="rgb(255,153,153)" stroke-width="0.4"/>
<polygon points="491.1,759.0 500.8,760.4 492.8,765.6 483.2,764.2" fill="rgb(185,188,249)" stroke="rgb(185,188,249)" stroke-width="0.4"/>
<polygon points="500.8,760.5 510.4,761.9 502.4,767.0 492.8,765.6" fill="rgb(255,255,255)" stroke="rgb(255,255,255)" stroke-width="0.4"/>
<polygon points="425.4,755.8 435.0,757.2 427.0,762.4 417.4,761.0" fill="rgb(255,242,242)" stroke="rgb(255,242,242)" stroke-width="0.4"/>
<polygon points="435.0,757.2 444.6,758.6 436.7,763.8 427.0,762.4" fill="rgb(255,178,178)" stroke="rgb(255,178,178)" stroke-width="0.4"/>
<polygon points="444.6,758.6 454.3,760.0 446.3,765.2 436.7,763.8" fill="rgb(255,102,102)" stroke="rgb(255,102,102)" stroke-width="0.4"/>
<polygon points="454.3,760.0 463.9,761.4 456.0,766.6 446.3,765.2" fill="rgb(255,115,115)" stroke="rgb(255,115,115)" stroke-width="0.4"/>
<polygon points="463.9,761.4 473.5,762.8 465.6,768.0 456.0,766.6" fill="rgb(205,207,251)" stroke="rgb(205,207,251)" stroke-width="0.4"/>
<polygon points="473.5,762.8 483.2,764.2 475.2,769.4 465.6,768.0" fill="rgb(255,115,115)" stroke="rgb(255,115,115)" stroke-width="0.4"/>
<polygon points="483.2,764.2 492.8,765.6 484.9,770.8 475.2,769.4" fill="rgb(255,178,178)" stroke="rgb(255,178,178)" stroke-width="0.4"/>
<polygon points="492.8,765.6 502.4,767.0 494.5,772.2 484.9,770.8" fill="rgb(255,255,255)" stroke="rgb(255,255,255)" stroke-width="0.4"/>
<polygon points="417.4,761.0 427.0,762.4 419.1,767.6 409.4,766.2" fill="rgb(255,255,255)" stroke="rgb(255,255,255)" stroke-width="0.4"/>
<polygon points="427.0,762.4 436.7,763.8 428.7,769.0 419.1,767.6" fill="rgb(255,204,204)" stroke="rgb(255,204,204)" stroke-width="0.4"/>
<polygon points="436.7,763.8 446.3,765.2 438.4,770.4 428.7,769.0" fill="rgb(255,166,166)" stroke="rgb(255,166,166)" stroke-width="0.4"/>
<polygon points="446.3,765.2 455.9,766.6 448.0,771.8 438.4,770.4" fill="rgb(255,128,128)" stroke="rgb(255,128,128)" stroke-width="0.4"/>
<polygon points="456.0,766.6 465.6,768.0 457.6,773.2 448.0,771.8" fill="rgb(255,115,115)" stroke="rgb(255,115,115)" stroke-width="0.4"/>
<polygon points="465.6,768.0 475.2,769.4 467.3,774.6 457.6,773.2" fill="rgb(255,38,38)" stroke="rgb(255,38,38)" stroke-width="0.4"/>
<polygon points="475.2,769.4 484.9,770.8 476.9,776.0 467.3,774.6" fill="rgb(255,140,140)" stroke="rgb(255,140,140)" stroke-width="0.4"/>
<polygon points="484.9,770.8 494.5,772.2 486.5,777.4 476.9,776.0" fill="rgb(255,242,242)" stroke="rgb(255,242,242)" stroke-width="0.4"/>
<polygon points="409.4,766.2 419.1,767.6 411.1,772.8 401.5,771.4" fill="rgb(255,178,178)" stroke="rgb(255,178,178)" stroke-width="0.4"/>
<polygon points="419.1,767.6 428.7,769.0 420.8,774.2 411.1,772.8" fill="rgb(255,255,255)" stroke="rgb(255,255,255)" stroke-width="0.4"/>
<polygon points="428.7,769.0 438.4,770.4 430.4,775.6 420.8,774.2" fill="rgb(215,217,252)" stroke="rgb(215,217,252)" stroke-width="0.4"/>
<polygon points="438.4,770.4 448.0,771.8 440.1,777.0 430.4,775.6" fill="rgb(255,255,255)" stroke="rgb(255,255,255)" stroke-width="0.4"/>
<polygon points="448.0,771.8 457.6,773.2 449.7,778.4 440.1,777.0" fill="rgb(255,217,217)" stroke="rgb(255,217,217)" stroke-width="0.4"/>
<polygon points="457.6,773.2 467.3,774.6 459.3,779.8 449.7,778.4" fill="rgb(255,255,255)" stroke="rgb(255,255,255)" stroke-width="0.4"/>
<polygon points="467.3,774.6 476.9,776.0 469.0,781.2 459.3,779.8" fill="rgb(255,255,255)" stroke="rgb(255,255,255)" stroke-width="0.4"/>
<polygon points="476.9,776.0 486.5,777.4 478.6,782.6 469.0,781.2" fill="rgb(225,226,252)" stroke="rgb(225,226,252)" stroke-width="0.4"/>
<polygon points="465.1,729.9 542.2,741.1 478.6,782.6 401.5,771.4" fill="none" stroke="#777" stroke-width="0.7"/>
<text transform="translate(409.5,580.0) rotate(-29)" font-size="10.5" font-weight="bold" textLength="37" lengthAdjust="spacingAndGlyphs">Y (<tspan font-style="italic">&#956;m</tspan>)</text>
<text transform="translate(489.5,553.0) rotate(10)" font-size="10.5" font-weight="bold" textLength="37" lengthAdjust="spacingAndGlyphs">X (<tspan font-style="italic">&#956;m</tspan>)</text>
<text transform="translate(409.5,663.6) rotate(-29)" font-size="10.5" font-weight="bold" textLength="37" lengthAdjust="spacingAndGlyphs">Y (<tspan font-style="italic">&#956;m</tspan>)</text>
<text transform="translate(489.5,636.6) rotate(10)" font-size="10.5" font-weight="bold" textLength="37" lengthAdjust="spacingAndGlyphs">X (<tspan font-style="italic">&#956;m</tspan>)</text>
<text transform="translate(409.5,755.7) rotate(-29)" font-size="10.5" font-weight="bold" textLength="37" lengthAdjust="spacingAndGlyphs">Y (<tspan font-style="italic">&#956;m</tspan>)</text>
<text transform="translate(489.5,728.7) rotate(10)" font-size="10.5" font-weight="bold" textLength="37" lengthAdjust="spacingAndGlyphs">X (<tspan font-style="italic">&#956;m</tspan>)</text>
<rect x="465.4" y="617.6" width="15" height="2.6" fill="#000"/>
<rect x="466.7" y="706.1" width="13.7" height="2.6" fill="#000"/>
<rect x="466.7" y="712.5" width="13.7" height="2.6" fill="#000"/>
<text x="597" y="577.1" font-size="19" font-weight="bold" font-style="italic" fill="#c00000">I</text>
<text x="602.8" y="582.6" font-size="13.4" font-weight="bold" fill="#c00000" textLength="27" lengthAdjust="spacingAndGlyphs">RCP</text>
<text x="597" y="653.3" font-size="19" font-weight="bold" font-style="italic" fill="#2525ff">I</text>
<text x="602.8" y="658.5" font-size="13.4" font-weight="bold" fill="#2525ff" textLength="26" lengthAdjust="spacingAndGlyphs">LCP</text>
<text x="562.5" y="745.3" font-size="19" font-weight="bold" font-style="italic" fill="#c00000">I</text>
<text x="567.5" y="750.5" font-size="13.4" font-weight="bold" fill="#c00000" textLength="27.5" lengthAdjust="spacingAndGlyphs">RCP</text>
<rect x="604.7" y="738.4" width="12.9" height="1.4" fill="#222"/>
<text x="625.2" y="745.3" font-size="19" font-weight="bold" font-style="italic" fill="#2525ff">I</text>
<text x="630.8" y="750.5" font-size="13.4" font-weight="bold" fill="#2525ff" textLength="26.2" lengthAdjust="spacingAndGlyphs">LCP</text>
<text x="580.8" y="768.8" font-size="17" font-weight="bold" textLength="57.8" lengthAdjust="spacingAndGlyphs">(ROA)</text></svg></body></html>
